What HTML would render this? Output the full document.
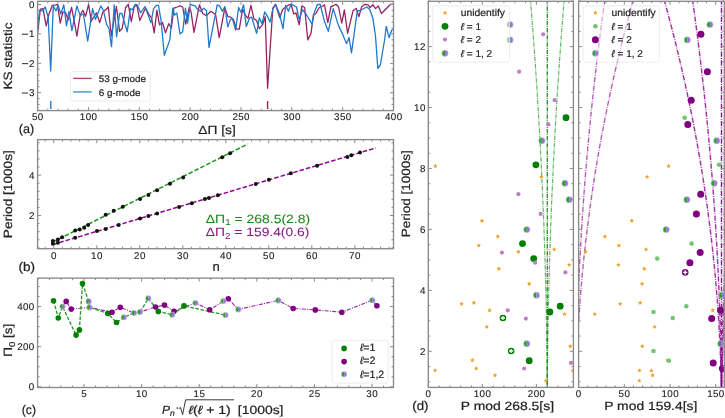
<!DOCTYPE html>
<html><head><meta charset="utf-8"><style>html,body{margin:0;padding:0;background:#fff;}body{width:725px;height:418px;overflow:hidden;font-family:"Liberation Sans", sans-serif;}</style></head><body>
<svg width="725" height="418" viewBox="0 0 725 418" font-family='"Liberation Sans", sans-serif' style="display:block;will-change:transform;text-rendering:geometricPrecision">
<rect width="725" height="418" fill="#fff"/>
<g>
<clipPath id="ca"><rect x="37.6" y="1.3" width="355.9" height="109.3"/></clipPath>
<g clip-path="url(#ca)">
<polyline points="37.6,33.4 40.3,9.2 43,8.6 46.2,25.9 49,14 52.2,5.4 56,4.8 57.5,4.3 60.2,23.2 62.9,11.9 65.5,12.5 68.3,19.9 71.6,7.5 74,20 76.9,36.1 80.2,15.1 82.9,10.2 85.6,16.2 88.6,4.3 91.2,21.2 96.5,12.9 99.7,22.6 102.9,11.9 106.2,9.2 108.3,7 111.3,36 116.4,6.5 119.6,31.3 122.3,28 125.6,7.5 128.3,4.3 131.3,21.6 134.2,6.5 136.9,5.4 139.8,20.5 145.5,8.1 149.3,15.1 151.5,17.8 154.2,32.9 156.9,10.2 159.5,24.8 162.5,22.5 165.5,32.9 168.7,23.7 171.4,28 173.9,8.1 177.3,7 180,5.9 182.7,7 185.7,24.2 189.2,7.5 191,11.5 194,32.3 199.4,4.8 202.7,13.5 206.5,15.6 210.8,11.3 215.6,14.5 219.2,37.7 224.8,8.1 228,16.7 230.7,17.2 233.4,19.4 236.6,29.1 239.3,29.1 242.6,9.2 245.3,15.1 248,18.3 250.9,5.4 253.9,18.9 256.6,20.5 259.3,28.6 262.5,24.8 265.2,16.7 267.6,88.3 272.8,8.1 275.5,4.5 279.8,17.8 282.5,9.7 285.7,7 288.9,4.8 291.1,4.3 293.8,14 296,12.9 299.2,24.8 301.9,5.9 304.6,7.5 307.8,39.9 311,33.4 313.4,14.8 315.9,13.5 319.2,7.5 321.9,6.5 324.5,4.8 327.8,22.6 331,6.5 333,6 335.9,4.3 338.6,7 341.7,23 344.4,10 347.6,33.4 353,10.8 356.2,8.4 358.9,16.7 361.6,6.8 364.9,4.3 368,4.8 370.2,7.5 372.9,4.8 375.6,8.6 378.3,5.9 381.5,13.5 390.6,4.3 392.8,4.1" fill="none" stroke="#982262" stroke-width="1.3" stroke-linejoin="round" />
<polyline points="37.6,24.8 39.8,10.2 42.5,10.8 45.2,7 48.2,17.5 50.7,71 53.3,5.9 56,10.8 58.1,5.2 60.8,14 63.8,4.8 66.5,25.9 68.9,11.3 71.9,30.7 76.9,5.9 80.2,15.6 83.4,14 87.7,41.2 92.6,8.6 95.4,19.4 100.8,5.9 103.5,10.8 106.7,24.8 108.9,28 111.5,46.6 114.2,4.8 116.6,36.6 119.6,13.5 121.8,13.5 127.2,31.8 130.4,8.6 132.3,9.7 135.3,4.3 137.4,4.8 140.6,12.9 145,6.5 150.9,22.6 153.6,8.6 156.3,5.4 158.5,5.4 161.2,21.6 164.3,55.3 169.8,39.9 172.8,8.1 174.6,15.1 176.8,12.9 180,33.9 182.7,31.8 185.4,8.1 187.6,23.2 190.3,4.3 195.1,5.9 197.8,9.7 201,11.3 203.8,8.1 206.5,10.8 209,47.4 217.2,4.8 219.4,5.9 222.6,11.3 224.8,6.5 227.8,26.9 230.2,19.9 232.3,18.3 235.6,30.2 238.6,7.5 241,12.4 243.6,4.8 246.3,26.4 249.6,17.8 251.7,17.2 256.6,33.4 259.3,17.8 262,23.7 264.7,11.9 267.9,17.2 270.1,22.1 272.8,9.2 275.5,4.3 279.5,14 283,28.6 285.7,5.4 288.4,11.3 291.1,4.1 296.5,7 299.2,19.9 302.4,9.7 306,14 312.1,24.2 314.3,12.4 317.5,4.3 320.2,4.5 324.5,21.6 328.3,31.3 333.2,8.6 338.6,25.9 342.3,33.4 346.6,43.7 349,37.4 351.5,52.8 357.3,10.8 360,10.5 366.9,7 369.6,9.2 372.9,18.3 375.5,36 377.8,68.4 380.3,65 384.6,40 386.3,26.4 389,37.7 391.7,30.2 393.5,29" fill="none" stroke="#2079cc" stroke-width="1.3" stroke-linejoin="round" />
<line x1="50.8" y1="101" x2="50.8" y2="109" stroke="#2079cc" stroke-width="1.4" />
<line x1="267.6" y1="101" x2="267.6" y2="109" stroke="#982262" stroke-width="1.4" />
</g>
<rect x="37.6" y="1.3" width="355.9" height="109.3" fill="none" stroke="#8a8a8a" stroke-width="1.35"/>
<line x1="37.6" y1="110.6" x2="37.6" y2="107.1" stroke="#8a8a8a" stroke-width="1.0" />
<line x1="37.6" y1="1.3" x2="37.6" y2="4.8" stroke="#8a8a8a" stroke-width="1.0" />
<line x1="88.44" y1="110.6" x2="88.44" y2="107.1" stroke="#8a8a8a" stroke-width="1.0" />
<line x1="88.44" y1="1.3" x2="88.44" y2="4.8" stroke="#8a8a8a" stroke-width="1.0" />
<line x1="139.29" y1="110.6" x2="139.29" y2="107.1" stroke="#8a8a8a" stroke-width="1.0" />
<line x1="139.29" y1="1.3" x2="139.29" y2="4.8" stroke="#8a8a8a" stroke-width="1.0" />
<line x1="190.13" y1="110.6" x2="190.13" y2="107.1" stroke="#8a8a8a" stroke-width="1.0" />
<line x1="190.13" y1="1.3" x2="190.13" y2="4.8" stroke="#8a8a8a" stroke-width="1.0" />
<line x1="240.97" y1="110.6" x2="240.97" y2="107.1" stroke="#8a8a8a" stroke-width="1.0" />
<line x1="240.97" y1="1.3" x2="240.97" y2="4.8" stroke="#8a8a8a" stroke-width="1.0" />
<line x1="291.81" y1="110.6" x2="291.81" y2="107.1" stroke="#8a8a8a" stroke-width="1.0" />
<line x1="291.81" y1="1.3" x2="291.81" y2="4.8" stroke="#8a8a8a" stroke-width="1.0" />
<line x1="342.66" y1="110.6" x2="342.66" y2="107.1" stroke="#8a8a8a" stroke-width="1.0" />
<line x1="342.66" y1="1.3" x2="342.66" y2="4.8" stroke="#8a8a8a" stroke-width="1.0" />
<line x1="393.5" y1="110.6" x2="393.5" y2="107.1" stroke="#8a8a8a" stroke-width="1.0" />
<line x1="393.5" y1="1.3" x2="393.5" y2="4.8" stroke="#8a8a8a" stroke-width="1.0" />
<line x1="47.77" y1="110.6" x2="47.77" y2="108.6" stroke="#8a8a8a" stroke-width="1.0" />
<line x1="47.77" y1="1.3" x2="47.77" y2="3.3" stroke="#8a8a8a" stroke-width="1.0" />
<line x1="57.94" y1="110.6" x2="57.94" y2="108.6" stroke="#8a8a8a" stroke-width="1.0" />
<line x1="57.94" y1="1.3" x2="57.94" y2="3.3" stroke="#8a8a8a" stroke-width="1.0" />
<line x1="68.11" y1="110.6" x2="68.11" y2="108.6" stroke="#8a8a8a" stroke-width="1.0" />
<line x1="68.11" y1="1.3" x2="68.11" y2="3.3" stroke="#8a8a8a" stroke-width="1.0" />
<line x1="78.27" y1="110.6" x2="78.27" y2="108.6" stroke="#8a8a8a" stroke-width="1.0" />
<line x1="78.27" y1="1.3" x2="78.27" y2="3.3" stroke="#8a8a8a" stroke-width="1.0" />
<line x1="98.61" y1="110.6" x2="98.61" y2="108.6" stroke="#8a8a8a" stroke-width="1.0" />
<line x1="98.61" y1="1.3" x2="98.61" y2="3.3" stroke="#8a8a8a" stroke-width="1.0" />
<line x1="108.78" y1="110.6" x2="108.78" y2="108.6" stroke="#8a8a8a" stroke-width="1.0" />
<line x1="108.78" y1="1.3" x2="108.78" y2="3.3" stroke="#8a8a8a" stroke-width="1.0" />
<line x1="118.95" y1="110.6" x2="118.95" y2="108.6" stroke="#8a8a8a" stroke-width="1.0" />
<line x1="118.95" y1="1.3" x2="118.95" y2="3.3" stroke="#8a8a8a" stroke-width="1.0" />
<line x1="129.12" y1="110.6" x2="129.12" y2="108.6" stroke="#8a8a8a" stroke-width="1.0" />
<line x1="129.12" y1="1.3" x2="129.12" y2="3.3" stroke="#8a8a8a" stroke-width="1.0" />
<line x1="149.45" y1="110.6" x2="149.45" y2="108.6" stroke="#8a8a8a" stroke-width="1.0" />
<line x1="149.45" y1="1.3" x2="149.45" y2="3.3" stroke="#8a8a8a" stroke-width="1.0" />
<line x1="159.62" y1="110.6" x2="159.62" y2="108.6" stroke="#8a8a8a" stroke-width="1.0" />
<line x1="159.62" y1="1.3" x2="159.62" y2="3.3" stroke="#8a8a8a" stroke-width="1.0" />
<line x1="169.79" y1="110.6" x2="169.79" y2="108.6" stroke="#8a8a8a" stroke-width="1.0" />
<line x1="169.79" y1="1.3" x2="169.79" y2="3.3" stroke="#8a8a8a" stroke-width="1.0" />
<line x1="179.96" y1="110.6" x2="179.96" y2="108.6" stroke="#8a8a8a" stroke-width="1.0" />
<line x1="179.96" y1="1.3" x2="179.96" y2="3.3" stroke="#8a8a8a" stroke-width="1.0" />
<line x1="200.3" y1="110.6" x2="200.3" y2="108.6" stroke="#8a8a8a" stroke-width="1.0" />
<line x1="200.3" y1="1.3" x2="200.3" y2="3.3" stroke="#8a8a8a" stroke-width="1.0" />
<line x1="210.47" y1="110.6" x2="210.47" y2="108.6" stroke="#8a8a8a" stroke-width="1.0" />
<line x1="210.47" y1="1.3" x2="210.47" y2="3.3" stroke="#8a8a8a" stroke-width="1.0" />
<line x1="220.63" y1="110.6" x2="220.63" y2="108.6" stroke="#8a8a8a" stroke-width="1.0" />
<line x1="220.63" y1="1.3" x2="220.63" y2="3.3" stroke="#8a8a8a" stroke-width="1.0" />
<line x1="230.8" y1="110.6" x2="230.8" y2="108.6" stroke="#8a8a8a" stroke-width="1.0" />
<line x1="230.8" y1="1.3" x2="230.8" y2="3.3" stroke="#8a8a8a" stroke-width="1.0" />
<line x1="251.14" y1="110.6" x2="251.14" y2="108.6" stroke="#8a8a8a" stroke-width="1.0" />
<line x1="251.14" y1="1.3" x2="251.14" y2="3.3" stroke="#8a8a8a" stroke-width="1.0" />
<line x1="261.31" y1="110.6" x2="261.31" y2="108.6" stroke="#8a8a8a" stroke-width="1.0" />
<line x1="261.31" y1="1.3" x2="261.31" y2="3.3" stroke="#8a8a8a" stroke-width="1.0" />
<line x1="271.48" y1="110.6" x2="271.48" y2="108.6" stroke="#8a8a8a" stroke-width="1.0" />
<line x1="271.48" y1="1.3" x2="271.48" y2="3.3" stroke="#8a8a8a" stroke-width="1.0" />
<line x1="281.65" y1="110.6" x2="281.65" y2="108.6" stroke="#8a8a8a" stroke-width="1.0" />
<line x1="281.65" y1="1.3" x2="281.65" y2="3.3" stroke="#8a8a8a" stroke-width="1.0" />
<line x1="301.98" y1="110.6" x2="301.98" y2="108.6" stroke="#8a8a8a" stroke-width="1.0" />
<line x1="301.98" y1="1.3" x2="301.98" y2="3.3" stroke="#8a8a8a" stroke-width="1.0" />
<line x1="312.15" y1="110.6" x2="312.15" y2="108.6" stroke="#8a8a8a" stroke-width="1.0" />
<line x1="312.15" y1="1.3" x2="312.15" y2="3.3" stroke="#8a8a8a" stroke-width="1.0" />
<line x1="322.32" y1="110.6" x2="322.32" y2="108.6" stroke="#8a8a8a" stroke-width="1.0" />
<line x1="322.32" y1="1.3" x2="322.32" y2="3.3" stroke="#8a8a8a" stroke-width="1.0" />
<line x1="332.49" y1="110.6" x2="332.49" y2="108.6" stroke="#8a8a8a" stroke-width="1.0" />
<line x1="332.49" y1="1.3" x2="332.49" y2="3.3" stroke="#8a8a8a" stroke-width="1.0" />
<line x1="352.83" y1="110.6" x2="352.83" y2="108.6" stroke="#8a8a8a" stroke-width="1.0" />
<line x1="352.83" y1="1.3" x2="352.83" y2="3.3" stroke="#8a8a8a" stroke-width="1.0" />
<line x1="362.99" y1="110.6" x2="362.99" y2="108.6" stroke="#8a8a8a" stroke-width="1.0" />
<line x1="362.99" y1="1.3" x2="362.99" y2="3.3" stroke="#8a8a8a" stroke-width="1.0" />
<line x1="373.16" y1="110.6" x2="373.16" y2="108.6" stroke="#8a8a8a" stroke-width="1.0" />
<line x1="373.16" y1="1.3" x2="373.16" y2="3.3" stroke="#8a8a8a" stroke-width="1.0" />
<line x1="383.33" y1="110.6" x2="383.33" y2="108.6" stroke="#8a8a8a" stroke-width="1.0" />
<line x1="383.33" y1="1.3" x2="383.33" y2="3.3" stroke="#8a8a8a" stroke-width="1.0" />
<line x1="37.6" y1="4.5" x2="41.1" y2="4.5" stroke="#8a8a8a" stroke-width="1.0" />
<line x1="393.5" y1="4.5" x2="390" y2="4.5" stroke="#8a8a8a" stroke-width="1.0" />
<line x1="37.6" y1="33.9" x2="41.1" y2="33.9" stroke="#8a8a8a" stroke-width="1.0" />
<line x1="393.5" y1="33.9" x2="390" y2="33.9" stroke="#8a8a8a" stroke-width="1.0" />
<line x1="37.6" y1="63.3" x2="41.1" y2="63.3" stroke="#8a8a8a" stroke-width="1.0" />
<line x1="393.5" y1="63.3" x2="390" y2="63.3" stroke="#8a8a8a" stroke-width="1.0" />
<line x1="37.6" y1="92.7" x2="41.1" y2="92.7" stroke="#8a8a8a" stroke-width="1.0" />
<line x1="393.5" y1="92.7" x2="390" y2="92.7" stroke="#8a8a8a" stroke-width="1.0" />
<line x1="37.6" y1="10.38" x2="39.6" y2="10.38" stroke="#8a8a8a" stroke-width="1.0" />
<line x1="393.5" y1="10.38" x2="391.5" y2="10.38" stroke="#8a8a8a" stroke-width="1.0" />
<line x1="37.6" y1="16.26" x2="39.6" y2="16.26" stroke="#8a8a8a" stroke-width="1.0" />
<line x1="393.5" y1="16.26" x2="391.5" y2="16.26" stroke="#8a8a8a" stroke-width="1.0" />
<line x1="37.6" y1="22.14" x2="39.6" y2="22.14" stroke="#8a8a8a" stroke-width="1.0" />
<line x1="393.5" y1="22.14" x2="391.5" y2="22.14" stroke="#8a8a8a" stroke-width="1.0" />
<line x1="37.6" y1="28.02" x2="39.6" y2="28.02" stroke="#8a8a8a" stroke-width="1.0" />
<line x1="393.5" y1="28.02" x2="391.5" y2="28.02" stroke="#8a8a8a" stroke-width="1.0" />
<line x1="37.6" y1="39.78" x2="39.6" y2="39.78" stroke="#8a8a8a" stroke-width="1.0" />
<line x1="393.5" y1="39.78" x2="391.5" y2="39.78" stroke="#8a8a8a" stroke-width="1.0" />
<line x1="37.6" y1="45.66" x2="39.6" y2="45.66" stroke="#8a8a8a" stroke-width="1.0" />
<line x1="393.5" y1="45.66" x2="391.5" y2="45.66" stroke="#8a8a8a" stroke-width="1.0" />
<line x1="37.6" y1="51.54" x2="39.6" y2="51.54" stroke="#8a8a8a" stroke-width="1.0" />
<line x1="393.5" y1="51.54" x2="391.5" y2="51.54" stroke="#8a8a8a" stroke-width="1.0" />
<line x1="37.6" y1="57.42" x2="39.6" y2="57.42" stroke="#8a8a8a" stroke-width="1.0" />
<line x1="393.5" y1="57.42" x2="391.5" y2="57.42" stroke="#8a8a8a" stroke-width="1.0" />
<line x1="37.6" y1="69.18" x2="39.6" y2="69.18" stroke="#8a8a8a" stroke-width="1.0" />
<line x1="393.5" y1="69.18" x2="391.5" y2="69.18" stroke="#8a8a8a" stroke-width="1.0" />
<line x1="37.6" y1="75.06" x2="39.6" y2="75.06" stroke="#8a8a8a" stroke-width="1.0" />
<line x1="393.5" y1="75.06" x2="391.5" y2="75.06" stroke="#8a8a8a" stroke-width="1.0" />
<line x1="37.6" y1="80.94" x2="39.6" y2="80.94" stroke="#8a8a8a" stroke-width="1.0" />
<line x1="393.5" y1="80.94" x2="391.5" y2="80.94" stroke="#8a8a8a" stroke-width="1.0" />
<line x1="37.6" y1="86.82" x2="39.6" y2="86.82" stroke="#8a8a8a" stroke-width="1.0" />
<line x1="393.5" y1="86.82" x2="391.5" y2="86.82" stroke="#8a8a8a" stroke-width="1.0" />
<line x1="37.6" y1="98.58" x2="39.6" y2="98.58" stroke="#8a8a8a" stroke-width="1.0" />
<line x1="393.5" y1="98.58" x2="391.5" y2="98.58" stroke="#8a8a8a" stroke-width="1.0" />
<line x1="37.6" y1="104.46" x2="39.6" y2="104.46" stroke="#8a8a8a" stroke-width="1.0" />
<line x1="393.5" y1="104.46" x2="391.5" y2="104.46" stroke="#8a8a8a" stroke-width="1.0" />
<line x1="37.6" y1="110.34" x2="39.6" y2="110.34" stroke="#8a8a8a" stroke-width="1.0" />
<line x1="393.5" y1="110.34" x2="391.5" y2="110.34" stroke="#8a8a8a" stroke-width="1.0" />
<text x="37.6" y="120.2" font-size="9.8" text-anchor="middle" fill="#222" stroke="#222" stroke-width="0.12" textLength="11.45" lengthAdjust="spacing">50</text>
<text x="88.44" y="120.2" font-size="9.8" text-anchor="middle" fill="#222" stroke="#222" stroke-width="0.12" textLength="17.17" lengthAdjust="spacing">100</text>
<text x="139.29" y="120.2" font-size="9.8" text-anchor="middle" fill="#222" stroke="#222" stroke-width="0.12" textLength="17.17" lengthAdjust="spacing">150</text>
<text x="190.13" y="120.2" font-size="9.8" text-anchor="middle" fill="#222" stroke="#222" stroke-width="0.12" textLength="17.17" lengthAdjust="spacing">200</text>
<text x="240.97" y="120.2" font-size="9.8" text-anchor="middle" fill="#222" stroke="#222" stroke-width="0.12" textLength="17.17" lengthAdjust="spacing">250</text>
<text x="291.81" y="120.2" font-size="9.8" text-anchor="middle" fill="#222" stroke="#222" stroke-width="0.12" textLength="17.17" lengthAdjust="spacing">300</text>
<text x="342.66" y="120.2" font-size="9.8" text-anchor="middle" fill="#222" stroke="#222" stroke-width="0.12" textLength="17.17" lengthAdjust="spacing">350</text>
<text x="393.5" y="120.2" font-size="9.8" text-anchor="middle" fill="#222" stroke="#222" stroke-width="0.12" textLength="17.17" lengthAdjust="spacing">400</text>
<text x="34.5" y="7.9" font-size="9.8" text-anchor="end" fill="#222" stroke="#222" stroke-width="0.12" textLength="5.72" lengthAdjust="spacing">0</text>
<rect x="22" y="33.7" width="6.1" height="1.05" fill="#333"/>
<text x="34.5" y="37.3" font-size="9.8" text-anchor="end" fill="#222" stroke="#222" stroke-width="0.12" textLength="5.72" lengthAdjust="spacing">1</text>
<rect x="22" y="63.1" width="6.1" height="1.05" fill="#333"/>
<text x="34.5" y="66.7" font-size="9.8" text-anchor="end" fill="#222" stroke="#222" stroke-width="0.12" textLength="5.72" lengthAdjust="spacing">2</text>
<rect x="22" y="92.5" width="6.1" height="1.05" fill="#333"/>
<text x="34.5" y="96.1" font-size="9.8" text-anchor="end" fill="#222" stroke="#222" stroke-width="0.12" textLength="5.72" lengthAdjust="spacing">3</text>
<text x="12.4" y="56" font-size="12" text-anchor="middle" fill="#222" stroke="#222" stroke-width="0.2" textLength="67" lengthAdjust="spacingAndGlyphs" transform="rotate(-90 12.4 56)" >KS statistic</text>
<text x="18.7" y="133.3" font-size="12.5" text-anchor="start" fill="#222" stroke="#222" stroke-width="0.2" textLength="15.4" lengthAdjust="spacingAndGlyphs" >(a)</text>
<text x="198.3" y="133.6" font-size="12" text-anchor="start" fill="#222" stroke="#222" stroke-width="0.2" textLength="37.4" lengthAdjust="spacingAndGlyphs" >ΔΠ [s]</text>
<rect x="70.6" y="71.4" width="79.8" height="29.6" rx="2" fill="#fff" fill-opacity="0.5" stroke="#e8e8e8" stroke-width="0.8"/>
<line x1="73.2" y1="78.4" x2="91.6" y2="78.4" stroke="#a8497a" stroke-width="1.4" />
<line x1="73.2" y1="91.9" x2="91.6" y2="91.9" stroke="#5a9ee0" stroke-width="1.6" />
<text x="98.8" y="82.2" font-size="9.5" text-anchor="start" fill="#222" stroke="#222" stroke-width="0.2" textLength="47.2" lengthAdjust="spacingAndGlyphs" >53 g-mode</text>
<text x="98.8" y="95.6" font-size="9.5" text-anchor="start" fill="#222" stroke="#222" stroke-width="0.2" textLength="41.6" lengthAdjust="spacingAndGlyphs" >6 g-mode</text>
</g>
<g>
<clipPath id="cb"><rect x="37.6" y="139.6" width="355.9" height="109.1"/></clipPath>
<g clip-path="url(#cb)">
<line x1="52.9" y1="242" x2="247.8" y2="144" stroke="#1a961a" stroke-width="1.5" stroke-dasharray="4.6 2"/>
<line x1="52.9" y1="244.5" x2="375.8" y2="147.9" stroke="#8e0a8e" stroke-width="1.5" stroke-dasharray="4.6 2"/>
<circle cx="52.9" cy="241.1" r="2" fill="#111"/>
<circle cx="52.9" cy="243.7" r="2" fill="#111"/>
<circle cx="57.9" cy="239.5" r="2" fill="#111"/>
<circle cx="57.9" cy="242.8" r="2" fill="#111"/>
<circle cx="62.1" cy="237.3" r="2" fill="#111"/>
<circle cx="75.2" cy="230.6" r="2" fill="#111"/>
<circle cx="79.7" cy="229.4" r="2" fill="#111"/>
<circle cx="84.2" cy="227.7" r="2" fill="#111"/>
<circle cx="88.1" cy="224.9" r="2" fill="#111"/>
<circle cx="105.7" cy="214.8" r="2" fill="#111"/>
<circle cx="113.7" cy="210.7" r="2" fill="#111"/>
<circle cx="122.8" cy="206.8" r="2" fill="#111"/>
<circle cx="140.1" cy="199.1" r="2" fill="#111"/>
<circle cx="148.4" cy="195.1" r="2" fill="#111"/>
<circle cx="157.1" cy="190.3" r="2" fill="#111"/>
<circle cx="170" cy="183.8" r="2" fill="#111"/>
<circle cx="183.1" cy="177.6" r="2" fill="#111"/>
<circle cx="222.2" cy="157.2" r="2" fill="#111"/>
<circle cx="230.1" cy="153.2" r="2" fill="#111"/>
<circle cx="75.2" cy="237.8" r="2" fill="#111"/>
<circle cx="97" cy="231.1" r="2" fill="#111"/>
<circle cx="105.7" cy="228.9" r="2" fill="#111"/>
<circle cx="118.6" cy="224.9" r="2" fill="#111"/>
<circle cx="140.1" cy="218.5" r="2" fill="#111"/>
<circle cx="148.4" cy="216.1" r="2" fill="#111"/>
<circle cx="157.1" cy="213.5" r="2" fill="#111"/>
<circle cx="179.1" cy="207" r="2" fill="#111"/>
<circle cx="191.8" cy="203.2" r="2" fill="#111"/>
<circle cx="204.9" cy="199.1" r="2" fill="#111"/>
<circle cx="209" cy="197.9" r="2" fill="#111"/>
<circle cx="217.9" cy="195.3" r="2" fill="#111"/>
<circle cx="255.8" cy="184" r="2" fill="#111"/>
<circle cx="268.9" cy="179.7" r="2" fill="#111"/>
<circle cx="290.8" cy="173.2" r="2" fill="#111"/>
<circle cx="317.1" cy="165.8" r="2" fill="#111"/>
<circle cx="347.4" cy="157.1" r="2" fill="#111"/>
<circle cx="351.3" cy="155.3" r="2" fill="#111"/>
<circle cx="360" cy="152.6" r="2" fill="#111"/>
</g>
<rect x="37.6" y="139.6" width="355.9" height="109.1" fill="none" stroke="#8a8a8a" stroke-width="1.35"/>
<line x1="53.8" y1="248.7" x2="53.8" y2="245.2" stroke="#8a8a8a" stroke-width="1.0" />
<line x1="53.8" y1="139.6" x2="53.8" y2="143.1" stroke="#8a8a8a" stroke-width="1.0" />
<line x1="96.8" y1="248.7" x2="96.8" y2="245.2" stroke="#8a8a8a" stroke-width="1.0" />
<line x1="96.8" y1="139.6" x2="96.8" y2="143.1" stroke="#8a8a8a" stroke-width="1.0" />
<line x1="139.8" y1="248.7" x2="139.8" y2="245.2" stroke="#8a8a8a" stroke-width="1.0" />
<line x1="139.8" y1="139.6" x2="139.8" y2="143.1" stroke="#8a8a8a" stroke-width="1.0" />
<line x1="182.8" y1="248.7" x2="182.8" y2="245.2" stroke="#8a8a8a" stroke-width="1.0" />
<line x1="182.8" y1="139.6" x2="182.8" y2="143.1" stroke="#8a8a8a" stroke-width="1.0" />
<line x1="225.8" y1="248.7" x2="225.8" y2="245.2" stroke="#8a8a8a" stroke-width="1.0" />
<line x1="225.8" y1="139.6" x2="225.8" y2="143.1" stroke="#8a8a8a" stroke-width="1.0" />
<line x1="268.8" y1="248.7" x2="268.8" y2="245.2" stroke="#8a8a8a" stroke-width="1.0" />
<line x1="268.8" y1="139.6" x2="268.8" y2="143.1" stroke="#8a8a8a" stroke-width="1.0" />
<line x1="311.8" y1="248.7" x2="311.8" y2="245.2" stroke="#8a8a8a" stroke-width="1.0" />
<line x1="311.8" y1="139.6" x2="311.8" y2="143.1" stroke="#8a8a8a" stroke-width="1.0" />
<line x1="354.8" y1="248.7" x2="354.8" y2="245.2" stroke="#8a8a8a" stroke-width="1.0" />
<line x1="354.8" y1="139.6" x2="354.8" y2="143.1" stroke="#8a8a8a" stroke-width="1.0" />
<line x1="45.2" y1="248.7" x2="45.2" y2="246.7" stroke="#8a8a8a" stroke-width="1.0" />
<line x1="45.2" y1="139.6" x2="45.2" y2="141.6" stroke="#8a8a8a" stroke-width="1.0" />
<line x1="62.4" y1="248.7" x2="62.4" y2="246.7" stroke="#8a8a8a" stroke-width="1.0" />
<line x1="62.4" y1="139.6" x2="62.4" y2="141.6" stroke="#8a8a8a" stroke-width="1.0" />
<line x1="71" y1="248.7" x2="71" y2="246.7" stroke="#8a8a8a" stroke-width="1.0" />
<line x1="71" y1="139.6" x2="71" y2="141.6" stroke="#8a8a8a" stroke-width="1.0" />
<line x1="79.6" y1="248.7" x2="79.6" y2="246.7" stroke="#8a8a8a" stroke-width="1.0" />
<line x1="79.6" y1="139.6" x2="79.6" y2="141.6" stroke="#8a8a8a" stroke-width="1.0" />
<line x1="88.2" y1="248.7" x2="88.2" y2="246.7" stroke="#8a8a8a" stroke-width="1.0" />
<line x1="88.2" y1="139.6" x2="88.2" y2="141.6" stroke="#8a8a8a" stroke-width="1.0" />
<line x1="105.4" y1="248.7" x2="105.4" y2="246.7" stroke="#8a8a8a" stroke-width="1.0" />
<line x1="105.4" y1="139.6" x2="105.4" y2="141.6" stroke="#8a8a8a" stroke-width="1.0" />
<line x1="114" y1="248.7" x2="114" y2="246.7" stroke="#8a8a8a" stroke-width="1.0" />
<line x1="114" y1="139.6" x2="114" y2="141.6" stroke="#8a8a8a" stroke-width="1.0" />
<line x1="122.6" y1="248.7" x2="122.6" y2="246.7" stroke="#8a8a8a" stroke-width="1.0" />
<line x1="122.6" y1="139.6" x2="122.6" y2="141.6" stroke="#8a8a8a" stroke-width="1.0" />
<line x1="131.2" y1="248.7" x2="131.2" y2="246.7" stroke="#8a8a8a" stroke-width="1.0" />
<line x1="131.2" y1="139.6" x2="131.2" y2="141.6" stroke="#8a8a8a" stroke-width="1.0" />
<line x1="148.4" y1="248.7" x2="148.4" y2="246.7" stroke="#8a8a8a" stroke-width="1.0" />
<line x1="148.4" y1="139.6" x2="148.4" y2="141.6" stroke="#8a8a8a" stroke-width="1.0" />
<line x1="157" y1="248.7" x2="157" y2="246.7" stroke="#8a8a8a" stroke-width="1.0" />
<line x1="157" y1="139.6" x2="157" y2="141.6" stroke="#8a8a8a" stroke-width="1.0" />
<line x1="165.6" y1="248.7" x2="165.6" y2="246.7" stroke="#8a8a8a" stroke-width="1.0" />
<line x1="165.6" y1="139.6" x2="165.6" y2="141.6" stroke="#8a8a8a" stroke-width="1.0" />
<line x1="174.2" y1="248.7" x2="174.2" y2="246.7" stroke="#8a8a8a" stroke-width="1.0" />
<line x1="174.2" y1="139.6" x2="174.2" y2="141.6" stroke="#8a8a8a" stroke-width="1.0" />
<line x1="191.4" y1="248.7" x2="191.4" y2="246.7" stroke="#8a8a8a" stroke-width="1.0" />
<line x1="191.4" y1="139.6" x2="191.4" y2="141.6" stroke="#8a8a8a" stroke-width="1.0" />
<line x1="200" y1="248.7" x2="200" y2="246.7" stroke="#8a8a8a" stroke-width="1.0" />
<line x1="200" y1="139.6" x2="200" y2="141.6" stroke="#8a8a8a" stroke-width="1.0" />
<line x1="208.6" y1="248.7" x2="208.6" y2="246.7" stroke="#8a8a8a" stroke-width="1.0" />
<line x1="208.6" y1="139.6" x2="208.6" y2="141.6" stroke="#8a8a8a" stroke-width="1.0" />
<line x1="217.2" y1="248.7" x2="217.2" y2="246.7" stroke="#8a8a8a" stroke-width="1.0" />
<line x1="217.2" y1="139.6" x2="217.2" y2="141.6" stroke="#8a8a8a" stroke-width="1.0" />
<line x1="234.4" y1="248.7" x2="234.4" y2="246.7" stroke="#8a8a8a" stroke-width="1.0" />
<line x1="234.4" y1="139.6" x2="234.4" y2="141.6" stroke="#8a8a8a" stroke-width="1.0" />
<line x1="243" y1="248.7" x2="243" y2="246.7" stroke="#8a8a8a" stroke-width="1.0" />
<line x1="243" y1="139.6" x2="243" y2="141.6" stroke="#8a8a8a" stroke-width="1.0" />
<line x1="251.6" y1="248.7" x2="251.6" y2="246.7" stroke="#8a8a8a" stroke-width="1.0" />
<line x1="251.6" y1="139.6" x2="251.6" y2="141.6" stroke="#8a8a8a" stroke-width="1.0" />
<line x1="260.2" y1="248.7" x2="260.2" y2="246.7" stroke="#8a8a8a" stroke-width="1.0" />
<line x1="260.2" y1="139.6" x2="260.2" y2="141.6" stroke="#8a8a8a" stroke-width="1.0" />
<line x1="277.4" y1="248.7" x2="277.4" y2="246.7" stroke="#8a8a8a" stroke-width="1.0" />
<line x1="277.4" y1="139.6" x2="277.4" y2="141.6" stroke="#8a8a8a" stroke-width="1.0" />
<line x1="286" y1="248.7" x2="286" y2="246.7" stroke="#8a8a8a" stroke-width="1.0" />
<line x1="286" y1="139.6" x2="286" y2="141.6" stroke="#8a8a8a" stroke-width="1.0" />
<line x1="294.6" y1="248.7" x2="294.6" y2="246.7" stroke="#8a8a8a" stroke-width="1.0" />
<line x1="294.6" y1="139.6" x2="294.6" y2="141.6" stroke="#8a8a8a" stroke-width="1.0" />
<line x1="303.2" y1="248.7" x2="303.2" y2="246.7" stroke="#8a8a8a" stroke-width="1.0" />
<line x1="303.2" y1="139.6" x2="303.2" y2="141.6" stroke="#8a8a8a" stroke-width="1.0" />
<line x1="320.4" y1="248.7" x2="320.4" y2="246.7" stroke="#8a8a8a" stroke-width="1.0" />
<line x1="320.4" y1="139.6" x2="320.4" y2="141.6" stroke="#8a8a8a" stroke-width="1.0" />
<line x1="329" y1="248.7" x2="329" y2="246.7" stroke="#8a8a8a" stroke-width="1.0" />
<line x1="329" y1="139.6" x2="329" y2="141.6" stroke="#8a8a8a" stroke-width="1.0" />
<line x1="337.6" y1="248.7" x2="337.6" y2="246.7" stroke="#8a8a8a" stroke-width="1.0" />
<line x1="337.6" y1="139.6" x2="337.6" y2="141.6" stroke="#8a8a8a" stroke-width="1.0" />
<line x1="346.2" y1="248.7" x2="346.2" y2="246.7" stroke="#8a8a8a" stroke-width="1.0" />
<line x1="346.2" y1="139.6" x2="346.2" y2="141.6" stroke="#8a8a8a" stroke-width="1.0" />
<line x1="363.4" y1="248.7" x2="363.4" y2="246.7" stroke="#8a8a8a" stroke-width="1.0" />
<line x1="363.4" y1="139.6" x2="363.4" y2="141.6" stroke="#8a8a8a" stroke-width="1.0" />
<line x1="372" y1="248.7" x2="372" y2="246.7" stroke="#8a8a8a" stroke-width="1.0" />
<line x1="372" y1="139.6" x2="372" y2="141.6" stroke="#8a8a8a" stroke-width="1.0" />
<line x1="380.6" y1="248.7" x2="380.6" y2="246.7" stroke="#8a8a8a" stroke-width="1.0" />
<line x1="380.6" y1="139.6" x2="380.6" y2="141.6" stroke="#8a8a8a" stroke-width="1.0" />
<line x1="389.2" y1="248.7" x2="389.2" y2="246.7" stroke="#8a8a8a" stroke-width="1.0" />
<line x1="389.2" y1="139.6" x2="389.2" y2="141.6" stroke="#8a8a8a" stroke-width="1.0" />
<line x1="37.6" y1="215.5" x2="41.1" y2="215.5" stroke="#8a8a8a" stroke-width="1.0" />
<line x1="393.5" y1="215.5" x2="390" y2="215.5" stroke="#8a8a8a" stroke-width="1.0" />
<line x1="37.6" y1="175.1" x2="41.1" y2="175.1" stroke="#8a8a8a" stroke-width="1.0" />
<line x1="393.5" y1="175.1" x2="390" y2="175.1" stroke="#8a8a8a" stroke-width="1.0" />
<line x1="37.6" y1="247.82" x2="39.6" y2="247.82" stroke="#8a8a8a" stroke-width="1.0" />
<line x1="393.5" y1="247.82" x2="391.5" y2="247.82" stroke="#8a8a8a" stroke-width="1.0" />
<line x1="37.6" y1="239.74" x2="39.6" y2="239.74" stroke="#8a8a8a" stroke-width="1.0" />
<line x1="393.5" y1="239.74" x2="391.5" y2="239.74" stroke="#8a8a8a" stroke-width="1.0" />
<line x1="37.6" y1="231.66" x2="39.6" y2="231.66" stroke="#8a8a8a" stroke-width="1.0" />
<line x1="393.5" y1="231.66" x2="391.5" y2="231.66" stroke="#8a8a8a" stroke-width="1.0" />
<line x1="37.6" y1="223.58" x2="39.6" y2="223.58" stroke="#8a8a8a" stroke-width="1.0" />
<line x1="393.5" y1="223.58" x2="391.5" y2="223.58" stroke="#8a8a8a" stroke-width="1.0" />
<line x1="37.6" y1="207.42" x2="39.6" y2="207.42" stroke="#8a8a8a" stroke-width="1.0" />
<line x1="393.5" y1="207.42" x2="391.5" y2="207.42" stroke="#8a8a8a" stroke-width="1.0" />
<line x1="37.6" y1="199.34" x2="39.6" y2="199.34" stroke="#8a8a8a" stroke-width="1.0" />
<line x1="393.5" y1="199.34" x2="391.5" y2="199.34" stroke="#8a8a8a" stroke-width="1.0" />
<line x1="37.6" y1="191.26" x2="39.6" y2="191.26" stroke="#8a8a8a" stroke-width="1.0" />
<line x1="393.5" y1="191.26" x2="391.5" y2="191.26" stroke="#8a8a8a" stroke-width="1.0" />
<line x1="37.6" y1="183.18" x2="39.6" y2="183.18" stroke="#8a8a8a" stroke-width="1.0" />
<line x1="393.5" y1="183.18" x2="391.5" y2="183.18" stroke="#8a8a8a" stroke-width="1.0" />
<line x1="37.6" y1="167.02" x2="39.6" y2="167.02" stroke="#8a8a8a" stroke-width="1.0" />
<line x1="393.5" y1="167.02" x2="391.5" y2="167.02" stroke="#8a8a8a" stroke-width="1.0" />
<line x1="37.6" y1="158.94" x2="39.6" y2="158.94" stroke="#8a8a8a" stroke-width="1.0" />
<line x1="393.5" y1="158.94" x2="391.5" y2="158.94" stroke="#8a8a8a" stroke-width="1.0" />
<line x1="37.6" y1="150.86" x2="39.6" y2="150.86" stroke="#8a8a8a" stroke-width="1.0" />
<line x1="393.5" y1="150.86" x2="391.5" y2="150.86" stroke="#8a8a8a" stroke-width="1.0" />
<line x1="37.6" y1="142.78" x2="39.6" y2="142.78" stroke="#8a8a8a" stroke-width="1.0" />
<line x1="393.5" y1="142.78" x2="391.5" y2="142.78" stroke="#8a8a8a" stroke-width="1.0" />
<text x="53.8" y="258.6" font-size="9.8" text-anchor="middle" fill="#222" stroke="#222" stroke-width="0.12" textLength="5.72" lengthAdjust="spacing">0</text>
<text x="96.8" y="258.6" font-size="9.8" text-anchor="middle" fill="#222" stroke="#222" stroke-width="0.12" textLength="11.45" lengthAdjust="spacing">10</text>
<text x="139.8" y="258.6" font-size="9.8" text-anchor="middle" fill="#222" stroke="#222" stroke-width="0.12" textLength="11.45" lengthAdjust="spacing">20</text>
<text x="182.8" y="258.6" font-size="9.8" text-anchor="middle" fill="#222" stroke="#222" stroke-width="0.12" textLength="11.45" lengthAdjust="spacing">30</text>
<text x="225.8" y="258.6" font-size="9.8" text-anchor="middle" fill="#222" stroke="#222" stroke-width="0.12" textLength="11.45" lengthAdjust="spacing">40</text>
<text x="268.8" y="258.6" font-size="9.8" text-anchor="middle" fill="#222" stroke="#222" stroke-width="0.12" textLength="11.45" lengthAdjust="spacing">50</text>
<text x="311.8" y="258.6" font-size="9.8" text-anchor="middle" fill="#222" stroke="#222" stroke-width="0.12" textLength="11.45" lengthAdjust="spacing">60</text>
<text x="354.8" y="258.6" font-size="9.8" text-anchor="middle" fill="#222" stroke="#222" stroke-width="0.12" textLength="11.45" lengthAdjust="spacing">70</text>
<text x="34.5" y="178.5" font-size="9.8" text-anchor="end" fill="#222" stroke="#222" stroke-width="0.12" textLength="5.72" lengthAdjust="spacing">4</text>
<text x="34.5" y="218.9" font-size="9.8" text-anchor="end" fill="#222" stroke="#222" stroke-width="0.12" textLength="5.72" lengthAdjust="spacing">2</text>
<text x="12.4" y="194.2" font-size="12" text-anchor="middle" fill="#222" stroke="#222" stroke-width="0.2" textLength="88" lengthAdjust="spacingAndGlyphs" transform="rotate(-90 12.4 194.2)" >Period [1000s]</text>
<text x="18.5" y="271.4" font-size="12.5" text-anchor="start" fill="#222" stroke="#222" stroke-width="0.2" textLength="16.6" lengthAdjust="spacingAndGlyphs" >(b)</text>
<text x="216.2" y="271.3" font-size="13" text-anchor="middle" fill="#222" stroke="#222" stroke-width="0.2" >n</text>
<text x="205.8" y="222.9" font-size="12" text-anchor="start" fill="#1a8a1a" stroke="#1a8a1a" stroke-width="0.05" textLength="104.3" lengthAdjust="spacingAndGlyphs" >ΔΠ<tspan font-size="8.5" dy="2.2">1</tspan><tspan dy="-2.2"> = 268.5(2.8)</tspan></text>
<text x="205.8" y="236.4" font-size="12" text-anchor="start" fill="#8a1a8a" stroke="#8a1a8a" stroke-width="0.05" textLength="103.5" lengthAdjust="spacingAndGlyphs" >ΔΠ<tspan font-size="8.5" dy="2.2">2</tspan><tspan dy="-2.2"> = 159.4(0.6)</tspan></text>
</g>
<g>
<clipPath id="cc"><rect x="37.6" y="278.1" width="355.9" height="109.39999999999998"/></clipPath>
<g clip-path="url(#cc)">
<polyline points="62.5,306.5 66.2,301.4 71.2,309.1 89.5,307.4 112,312.2 120.3,307.2 134,313 140,312 155.5,307 164.5,305.1 174,311.3 195.5,303 209.7,309.8 223.4,301.1 228.3,298.8 238.3,309.4 278.3,300.4 293.2,308.5 315.3,309.9 341.8,312.2 372.3,300.2 376.9,305.7" fill="none" stroke="#a020a8" stroke-width="1.1" stroke-linejoin="round" stroke-dasharray="4 1.3 1 1.3"/>
<polyline points="53.5,300.7 58.3,318 62.5,306.5 76.1,335.1 79.4,329.9 82.5,283.6 88.7,301.4 89.5,307.4 107.8,313.4 116.5,322.5 123.9,317.3 134,313 140,312 148.3,298.4 158.3,311.4 172.2,314.8 184,305.9 225.5,315.1" fill="none" stroke="#1f9a1f" stroke-width="1.3" stroke-linejoin="round" stroke-dasharray="3.6 1.6"/>
<circle cx="53.5" cy="300.7" r="2.8" fill="#008000"/>
<circle cx="58.3" cy="318" r="2.8" fill="#008000"/>
<circle cx="76.1" cy="335.1" r="2.8" fill="#008000"/>
<circle cx="79.4" cy="329.9" r="2.8" fill="#008000"/>
<circle cx="82.5" cy="283.6" r="2.8" fill="#008000"/>
<circle cx="107.8" cy="313.4" r="2.8" fill="#008000"/>
<circle cx="116.5" cy="322.5" r="2.8" fill="#008000"/>
<circle cx="158.3" cy="311.4" r="2.8" fill="#008000"/>
<circle cx="184" cy="305.9" r="2.8" fill="#008000"/>
<circle cx="66.2" cy="301.4" r="2.8" fill="#800080"/>
<circle cx="71.2" cy="309.1" r="2.8" fill="#800080"/>
<circle cx="112" cy="312.2" r="2.8" fill="#800080"/>
<circle cx="120.3" cy="307.2" r="2.8" fill="#800080"/>
<circle cx="155.5" cy="307" r="2.8" fill="#800080"/>
<circle cx="164.5" cy="305.1" r="2.8" fill="#800080"/>
<circle cx="174" cy="311.3" r="2.8" fill="#800080"/>
<circle cx="209.7" cy="309.8" r="2.8" fill="#800080"/>
<circle cx="228.3" cy="298.8" r="2.8" fill="#800080"/>
<circle cx="293.2" cy="308.5" r="2.8" fill="#800080"/>
<circle cx="315.3" cy="309.9" r="2.8" fill="#800080"/>
<circle cx="341.8" cy="312.2" r="2.8" fill="#800080"/>
<circle cx="376.9" cy="305.7" r="2.8" fill="#800080"/>
<g><path d="M62.5,303.7 A2.8,2.8 0 0 0 62.5,309.3 Z" fill="#2ca02c"/><path d="M62.5,303.7 A2.8,2.8 0 0 1 62.5,309.3 Z" fill="#a070d8"/><circle cx="62.5" cy="306.5" r="2.8" fill="none" stroke="#c8d0f0" stroke-width="0.6"/></g>
<g><path d="M88.7,298.6 A2.8,2.8 0 0 0 88.7,304.2 Z" fill="#2ca02c"/><path d="M88.7,298.6 A2.8,2.8 0 0 1 88.7,304.2 Z" fill="#a070d8"/><circle cx="88.7" cy="301.4" r="2.8" fill="none" stroke="#c8d0f0" stroke-width="0.6"/></g>
<g><path d="M89.5,304.6 A2.8,2.8 0 0 0 89.5,310.2 Z" fill="#2ca02c"/><path d="M89.5,304.6 A2.8,2.8 0 0 1 89.5,310.2 Z" fill="#a070d8"/><circle cx="89.5" cy="307.4" r="2.8" fill="none" stroke="#c8d0f0" stroke-width="0.6"/></g>
<g><path d="M123.9,314.5 A2.8,2.8 0 0 0 123.9,320.1 Z" fill="#2ca02c"/><path d="M123.9,314.5 A2.8,2.8 0 0 1 123.9,320.1 Z" fill="#a070d8"/><circle cx="123.9" cy="317.3" r="2.8" fill="none" stroke="#c8d0f0" stroke-width="0.6"/></g>
<g><path d="M134,310.2 A2.8,2.8 0 0 0 134,315.8 Z" fill="#2ca02c"/><path d="M134,310.2 A2.8,2.8 0 0 1 134,315.8 Z" fill="#a070d8"/><circle cx="134" cy="313" r="2.8" fill="none" stroke="#c8d0f0" stroke-width="0.6"/></g>
<g><path d="M140,309.2 A2.8,2.8 0 0 0 140,314.8 Z" fill="#2ca02c"/><path d="M140,309.2 A2.8,2.8 0 0 1 140,314.8 Z" fill="#a070d8"/><circle cx="140" cy="312" r="2.8" fill="none" stroke="#c8d0f0" stroke-width="0.6"/></g>
<g><path d="M148.3,295.6 A2.8,2.8 0 0 0 148.3,301.2 Z" fill="#2ca02c"/><path d="M148.3,295.6 A2.8,2.8 0 0 1 148.3,301.2 Z" fill="#a070d8"/><circle cx="148.3" cy="298.4" r="2.8" fill="none" stroke="#c8d0f0" stroke-width="0.6"/></g>
<g><path d="M172.2,312 A2.8,2.8 0 0 0 172.2,317.6 Z" fill="#2ca02c"/><path d="M172.2,312 A2.8,2.8 0 0 1 172.2,317.6 Z" fill="#a070d8"/><circle cx="172.2" cy="314.8" r="2.8" fill="none" stroke="#c8d0f0" stroke-width="0.6"/></g>
<g><path d="M195.5,300.2 A2.8,2.8 0 0 0 195.5,305.8 Z" fill="#2ca02c"/><path d="M195.5,300.2 A2.8,2.8 0 0 1 195.5,305.8 Z" fill="#a070d8"/><circle cx="195.5" cy="303" r="2.8" fill="none" stroke="#c8d0f0" stroke-width="0.6"/></g>
<g><path d="M223.4,298.3 A2.8,2.8 0 0 0 223.4,303.9 Z" fill="#2ca02c"/><path d="M223.4,298.3 A2.8,2.8 0 0 1 223.4,303.9 Z" fill="#a070d8"/><circle cx="223.4" cy="301.1" r="2.8" fill="none" stroke="#c8d0f0" stroke-width="0.6"/></g>
<g><path d="M225.5,312.3 A2.8,2.8 0 0 0 225.5,317.9 Z" fill="#2ca02c"/><path d="M225.5,312.3 A2.8,2.8 0 0 1 225.5,317.9 Z" fill="#a070d8"/><circle cx="225.5" cy="315.1" r="2.8" fill="none" stroke="#c8d0f0" stroke-width="0.6"/></g>
<g><path d="M238.3,306.6 A2.8,2.8 0 0 0 238.3,312.2 Z" fill="#2ca02c"/><path d="M238.3,306.6 A2.8,2.8 0 0 1 238.3,312.2 Z" fill="#a070d8"/><circle cx="238.3" cy="309.4" r="2.8" fill="none" stroke="#c8d0f0" stroke-width="0.6"/></g>
<g><path d="M278.3,297.6 A2.8,2.8 0 0 0 278.3,303.2 Z" fill="#2ca02c"/><path d="M278.3,297.6 A2.8,2.8 0 0 1 278.3,303.2 Z" fill="#a070d8"/><circle cx="278.3" cy="300.4" r="2.8" fill="none" stroke="#c8d0f0" stroke-width="0.6"/></g>
<g><path d="M372.3,297.4 A2.8,2.8 0 0 0 372.3,303 Z" fill="#2ca02c"/><path d="M372.3,297.4 A2.8,2.8 0 0 1 372.3,303 Z" fill="#a070d8"/><circle cx="372.3" cy="300.2" r="2.8" fill="none" stroke="#c8d0f0" stroke-width="0.6"/></g>
</g>
<rect x="37.6" y="278.1" width="355.9" height="109.4" fill="none" stroke="#8a8a8a" stroke-width="1.35"/>
<line x1="84" y1="387.5" x2="84" y2="384" stroke="#8a8a8a" stroke-width="1.0" />
<line x1="84" y1="278.1" x2="84" y2="281.6" stroke="#8a8a8a" stroke-width="1.0" />
<line x1="141.6" y1="387.5" x2="141.6" y2="384" stroke="#8a8a8a" stroke-width="1.0" />
<line x1="141.6" y1="278.1" x2="141.6" y2="281.6" stroke="#8a8a8a" stroke-width="1.0" />
<line x1="199.2" y1="387.5" x2="199.2" y2="384" stroke="#8a8a8a" stroke-width="1.0" />
<line x1="199.2" y1="278.1" x2="199.2" y2="281.6" stroke="#8a8a8a" stroke-width="1.0" />
<line x1="256.8" y1="387.5" x2="256.8" y2="384" stroke="#8a8a8a" stroke-width="1.0" />
<line x1="256.8" y1="278.1" x2="256.8" y2="281.6" stroke="#8a8a8a" stroke-width="1.0" />
<line x1="314.4" y1="387.5" x2="314.4" y2="384" stroke="#8a8a8a" stroke-width="1.0" />
<line x1="314.4" y1="278.1" x2="314.4" y2="281.6" stroke="#8a8a8a" stroke-width="1.0" />
<line x1="372" y1="387.5" x2="372" y2="384" stroke="#8a8a8a" stroke-width="1.0" />
<line x1="372" y1="278.1" x2="372" y2="281.6" stroke="#8a8a8a" stroke-width="1.0" />
<line x1="37.92" y1="387.5" x2="37.92" y2="385.5" stroke="#8a8a8a" stroke-width="1.0" />
<line x1="37.92" y1="278.1" x2="37.92" y2="280.1" stroke="#8a8a8a" stroke-width="1.0" />
<line x1="49.44" y1="387.5" x2="49.44" y2="385.5" stroke="#8a8a8a" stroke-width="1.0" />
<line x1="49.44" y1="278.1" x2="49.44" y2="280.1" stroke="#8a8a8a" stroke-width="1.0" />
<line x1="60.96" y1="387.5" x2="60.96" y2="385.5" stroke="#8a8a8a" stroke-width="1.0" />
<line x1="60.96" y1="278.1" x2="60.96" y2="280.1" stroke="#8a8a8a" stroke-width="1.0" />
<line x1="72.48" y1="387.5" x2="72.48" y2="385.5" stroke="#8a8a8a" stroke-width="1.0" />
<line x1="72.48" y1="278.1" x2="72.48" y2="280.1" stroke="#8a8a8a" stroke-width="1.0" />
<line x1="95.52" y1="387.5" x2="95.52" y2="385.5" stroke="#8a8a8a" stroke-width="1.0" />
<line x1="95.52" y1="278.1" x2="95.52" y2="280.1" stroke="#8a8a8a" stroke-width="1.0" />
<line x1="107.04" y1="387.5" x2="107.04" y2="385.5" stroke="#8a8a8a" stroke-width="1.0" />
<line x1="107.04" y1="278.1" x2="107.04" y2="280.1" stroke="#8a8a8a" stroke-width="1.0" />
<line x1="118.56" y1="387.5" x2="118.56" y2="385.5" stroke="#8a8a8a" stroke-width="1.0" />
<line x1="118.56" y1="278.1" x2="118.56" y2="280.1" stroke="#8a8a8a" stroke-width="1.0" />
<line x1="130.08" y1="387.5" x2="130.08" y2="385.5" stroke="#8a8a8a" stroke-width="1.0" />
<line x1="130.08" y1="278.1" x2="130.08" y2="280.1" stroke="#8a8a8a" stroke-width="1.0" />
<line x1="153.12" y1="387.5" x2="153.12" y2="385.5" stroke="#8a8a8a" stroke-width="1.0" />
<line x1="153.12" y1="278.1" x2="153.12" y2="280.1" stroke="#8a8a8a" stroke-width="1.0" />
<line x1="164.64" y1="387.5" x2="164.64" y2="385.5" stroke="#8a8a8a" stroke-width="1.0" />
<line x1="164.64" y1="278.1" x2="164.64" y2="280.1" stroke="#8a8a8a" stroke-width="1.0" />
<line x1="176.16" y1="387.5" x2="176.16" y2="385.5" stroke="#8a8a8a" stroke-width="1.0" />
<line x1="176.16" y1="278.1" x2="176.16" y2="280.1" stroke="#8a8a8a" stroke-width="1.0" />
<line x1="187.68" y1="387.5" x2="187.68" y2="385.5" stroke="#8a8a8a" stroke-width="1.0" />
<line x1="187.68" y1="278.1" x2="187.68" y2="280.1" stroke="#8a8a8a" stroke-width="1.0" />
<line x1="210.72" y1="387.5" x2="210.72" y2="385.5" stroke="#8a8a8a" stroke-width="1.0" />
<line x1="210.72" y1="278.1" x2="210.72" y2="280.1" stroke="#8a8a8a" stroke-width="1.0" />
<line x1="222.24" y1="387.5" x2="222.24" y2="385.5" stroke="#8a8a8a" stroke-width="1.0" />
<line x1="222.24" y1="278.1" x2="222.24" y2="280.1" stroke="#8a8a8a" stroke-width="1.0" />
<line x1="233.76" y1="387.5" x2="233.76" y2="385.5" stroke="#8a8a8a" stroke-width="1.0" />
<line x1="233.76" y1="278.1" x2="233.76" y2="280.1" stroke="#8a8a8a" stroke-width="1.0" />
<line x1="245.28" y1="387.5" x2="245.28" y2="385.5" stroke="#8a8a8a" stroke-width="1.0" />
<line x1="245.28" y1="278.1" x2="245.28" y2="280.1" stroke="#8a8a8a" stroke-width="1.0" />
<line x1="268.32" y1="387.5" x2="268.32" y2="385.5" stroke="#8a8a8a" stroke-width="1.0" />
<line x1="268.32" y1="278.1" x2="268.32" y2="280.1" stroke="#8a8a8a" stroke-width="1.0" />
<line x1="279.84" y1="387.5" x2="279.84" y2="385.5" stroke="#8a8a8a" stroke-width="1.0" />
<line x1="279.84" y1="278.1" x2="279.84" y2="280.1" stroke="#8a8a8a" stroke-width="1.0" />
<line x1="291.36" y1="387.5" x2="291.36" y2="385.5" stroke="#8a8a8a" stroke-width="1.0" />
<line x1="291.36" y1="278.1" x2="291.36" y2="280.1" stroke="#8a8a8a" stroke-width="1.0" />
<line x1="302.88" y1="387.5" x2="302.88" y2="385.5" stroke="#8a8a8a" stroke-width="1.0" />
<line x1="302.88" y1="278.1" x2="302.88" y2="280.1" stroke="#8a8a8a" stroke-width="1.0" />
<line x1="325.92" y1="387.5" x2="325.92" y2="385.5" stroke="#8a8a8a" stroke-width="1.0" />
<line x1="325.92" y1="278.1" x2="325.92" y2="280.1" stroke="#8a8a8a" stroke-width="1.0" />
<line x1="337.44" y1="387.5" x2="337.44" y2="385.5" stroke="#8a8a8a" stroke-width="1.0" />
<line x1="337.44" y1="278.1" x2="337.44" y2="280.1" stroke="#8a8a8a" stroke-width="1.0" />
<line x1="348.96" y1="387.5" x2="348.96" y2="385.5" stroke="#8a8a8a" stroke-width="1.0" />
<line x1="348.96" y1="278.1" x2="348.96" y2="280.1" stroke="#8a8a8a" stroke-width="1.0" />
<line x1="360.48" y1="387.5" x2="360.48" y2="385.5" stroke="#8a8a8a" stroke-width="1.0" />
<line x1="360.48" y1="278.1" x2="360.48" y2="280.1" stroke="#8a8a8a" stroke-width="1.0" />
<line x1="383.52" y1="387.5" x2="383.52" y2="385.5" stroke="#8a8a8a" stroke-width="1.0" />
<line x1="383.52" y1="278.1" x2="383.52" y2="280.1" stroke="#8a8a8a" stroke-width="1.0" />
<line x1="37.6" y1="386.8" x2="41.1" y2="386.8" stroke="#8a8a8a" stroke-width="1.0" />
<line x1="393.5" y1="386.8" x2="390" y2="386.8" stroke="#8a8a8a" stroke-width="1.0" />
<line x1="37.6" y1="346.7" x2="41.1" y2="346.7" stroke="#8a8a8a" stroke-width="1.0" />
<line x1="393.5" y1="346.7" x2="390" y2="346.7" stroke="#8a8a8a" stroke-width="1.0" />
<line x1="37.6" y1="306.6" x2="41.1" y2="306.6" stroke="#8a8a8a" stroke-width="1.0" />
<line x1="393.5" y1="306.6" x2="390" y2="306.6" stroke="#8a8a8a" stroke-width="1.0" />
<line x1="37.6" y1="376.78" x2="39.6" y2="376.78" stroke="#8a8a8a" stroke-width="1.0" />
<line x1="393.5" y1="376.78" x2="391.5" y2="376.78" stroke="#8a8a8a" stroke-width="1.0" />
<line x1="37.6" y1="366.75" x2="39.6" y2="366.75" stroke="#8a8a8a" stroke-width="1.0" />
<line x1="393.5" y1="366.75" x2="391.5" y2="366.75" stroke="#8a8a8a" stroke-width="1.0" />
<line x1="37.6" y1="356.73" x2="39.6" y2="356.73" stroke="#8a8a8a" stroke-width="1.0" />
<line x1="393.5" y1="356.73" x2="391.5" y2="356.73" stroke="#8a8a8a" stroke-width="1.0" />
<line x1="37.6" y1="336.68" x2="39.6" y2="336.68" stroke="#8a8a8a" stroke-width="1.0" />
<line x1="393.5" y1="336.68" x2="391.5" y2="336.68" stroke="#8a8a8a" stroke-width="1.0" />
<line x1="37.6" y1="326.65" x2="39.6" y2="326.65" stroke="#8a8a8a" stroke-width="1.0" />
<line x1="393.5" y1="326.65" x2="391.5" y2="326.65" stroke="#8a8a8a" stroke-width="1.0" />
<line x1="37.6" y1="316.62" x2="39.6" y2="316.62" stroke="#8a8a8a" stroke-width="1.0" />
<line x1="393.5" y1="316.62" x2="391.5" y2="316.62" stroke="#8a8a8a" stroke-width="1.0" />
<line x1="37.6" y1="296.57" x2="39.6" y2="296.57" stroke="#8a8a8a" stroke-width="1.0" />
<line x1="393.5" y1="296.57" x2="391.5" y2="296.57" stroke="#8a8a8a" stroke-width="1.0" />
<line x1="37.6" y1="286.55" x2="39.6" y2="286.55" stroke="#8a8a8a" stroke-width="1.0" />
<line x1="393.5" y1="286.55" x2="391.5" y2="286.55" stroke="#8a8a8a" stroke-width="1.0" />
<text x="84" y="396.8" font-size="9.8" text-anchor="middle" fill="#222" stroke="#222" stroke-width="0.12" textLength="5.72" lengthAdjust="spacing">5</text>
<text x="141.6" y="396.8" font-size="9.8" text-anchor="middle" fill="#222" stroke="#222" stroke-width="0.12" textLength="11.45" lengthAdjust="spacing">10</text>
<text x="199.2" y="396.8" font-size="9.8" text-anchor="middle" fill="#222" stroke="#222" stroke-width="0.12" textLength="11.45" lengthAdjust="spacing">15</text>
<text x="256.8" y="396.8" font-size="9.8" text-anchor="middle" fill="#222" stroke="#222" stroke-width="0.12" textLength="11.45" lengthAdjust="spacing">20</text>
<text x="314.4" y="396.8" font-size="9.8" text-anchor="middle" fill="#222" stroke="#222" stroke-width="0.12" textLength="11.45" lengthAdjust="spacing">25</text>
<text x="372" y="396.8" font-size="9.8" text-anchor="middle" fill="#222" stroke="#222" stroke-width="0.12" textLength="11.45" lengthAdjust="spacing">30</text>
<text x="34.3" y="390.2" font-size="9.8" text-anchor="end" fill="#222" stroke="#222" stroke-width="0.12" textLength="5.72" lengthAdjust="spacing">0</text>
<text x="34.3" y="350.1" font-size="9.8" text-anchor="end" fill="#222" stroke="#222" stroke-width="0.12" textLength="17.17" lengthAdjust="spacing">200</text>
<text x="34.3" y="310" font-size="9.8" text-anchor="end" fill="#222" stroke="#222" stroke-width="0.12" textLength="17.17" lengthAdjust="spacing">400</text>
<text x="12.4" y="340.3" font-size="12" text-anchor="middle" fill="#222" stroke="#222" stroke-width="0.2" textLength="33" lengthAdjust="spacingAndGlyphs" transform="rotate(-90 12.4 340.3)" >Π<tspan font-size="8.5" dy="2.5">0</tspan><tspan dy="-2.5"> [s]</tspan></text>
<text x="21.8" y="413.7" font-size="12.5" text-anchor="start" fill="#222" stroke="#222" stroke-width="0.2" textLength="14.2" lengthAdjust="spacingAndGlyphs" >(c)</text>
<text x="162.1" y="413.8" font-size="12" fill="#222" stroke="#222" stroke-width="0.2"><tspan font-style="italic">P</tspan><tspan font-style="italic" font-size="8.5" dy="2.2">n</tspan></text>
<text x="175.6" y="411" font-size="11" fill="#222" stroke="#222" stroke-width="0.2">·</text>
<path d="M178.7,408.5 L180.6,407.6 L182.6,414.6 L185.6,399.8 L234,399.8" fill="none" stroke="#222" stroke-width="0.9"/>
<text x="188.4" y="413.8" font-size="12" fill="#222" stroke="#222" stroke-width="0.2" textLength="42.4" lengthAdjust="spacingAndGlyphs"><tspan font-style="italic">ℓ</tspan>(<tspan font-style="italic">ℓ</tspan> + 1)</text>
<text x="237.8" y="413.8" font-size="12" text-anchor="start" fill="#222" stroke="#222" stroke-width="0.2" textLength="45.7" lengthAdjust="spacingAndGlyphs" >[1000s]</text>
<rect x="332.2" y="340.3" width="56" height="42.8" rx="2" fill="#fff" fill-opacity="0.5" stroke="#e8e8e8" stroke-width="0.8"/>
<circle cx="344.1" cy="348.4" r="2.8" fill="#008000"/>
<circle cx="344.1" cy="361.6" r="2.8" fill="#800080"/>
<g><path d="M344.1,371.4 A2.8,2.8 0 0 0 344.1,377 Z" fill="#2ca02c"/><path d="M344.1,371.4 A2.8,2.8 0 0 1 344.1,377 Z" fill="#a070d8"/><circle cx="344.1" cy="374.2" r="2.8" fill="none" stroke="#c8d0f0" stroke-width="0.6"/></g>
<text x="359.9" y="351.2" font-size="10.6" fill="#222" stroke="#222" stroke-width="0.2"><tspan font-style="italic">ℓ</tspan>=1</text>
<text x="359.9" y="364.4" font-size="10.6" fill="#222" stroke="#222" stroke-width="0.2"><tspan font-style="italic">ℓ</tspan>=2</text>
<text x="359.9" y="377.6" font-size="10.6" fill="#222" stroke="#222" stroke-width="0.2"><tspan font-style="italic">ℓ</tspan>=1,2</text>
</g>
<clipPath id="cdl"><rect x="428.3" y="1.3" width="145.09999999999997" height="386.09999999999997"/></clipPath>
<g clip-path="url(#cdl)">
<polyline points="530.4,-0.7 530.57,1.3 530.73,3.3 530.89,5.3 531.05,7.3 531.21,9.3 531.37,11.3 531.53,13.3 531.69,15.3 531.84,17.3 532,19.3 532.16,21.3 532.31,23.3 532.46,25.3 532.62,27.3 532.77,29.3 532.92,31.3 533.07,33.3 533.22,35.3 533.37,37.3 533.52,39.3 533.67,41.3 533.81,43.3 533.96,45.3 534.1,47.3 534.25,49.3 534.39,51.3 534.53,53.3 534.67,55.3 534.82,57.3 534.96,59.3 535.1,61.3 535.23,63.3 535.37,65.3 535.51,67.3 535.65,69.3 535.78,71.3 535.92,73.3 536.05,75.3 536.18,77.3 536.32,79.3 536.45,81.3 536.58,83.3 536.71,85.3 536.84,87.3 536.97,89.3 537.09,91.3 537.22,93.3 537.35,95.3 537.47,97.3 537.6,99.3 537.72,101.3 537.84,103.3 537.96,105.3 538.09,107.3 538.21,109.3 538.33,111.3 538.44,113.3 538.56,115.3 538.68,117.3 538.8,119.3 538.91,121.3 539.03,123.3 539.14,125.3 539.25,127.3 539.37,129.3 539.48,131.3 539.59,133.3 539.7,135.3 539.81,137.3 539.92,139.3 540.03,141.3 540.13,143.3 540.24,145.3 540.34,147.3 540.45,149.3 540.55,151.3 540.66,153.3 540.76,155.3 540.86,157.3 540.96,159.3 541.06,161.3 541.16,163.3 541.26,165.3 541.35,167.3 541.45,169.3 541.55,171.3 541.64,173.3 541.74,175.3 541.83,177.3 541.92,179.3 542.02,181.3 542.11,183.3 542.2,185.3 542.29,187.3 542.37,189.3 542.46,191.3 542.55,193.3 542.64,195.3 542.72,197.3 542.81,199.3 542.89,201.3 542.97,203.3 543.06,205.3 543.14,207.3 543.22,209.3 543.3,211.3 543.38,213.3 543.46,215.3 543.53,217.3 543.61,219.3 543.69,221.3 543.76,223.3 543.84,225.3 543.91,227.3 543.98,229.3 544.06,231.3 544.13,233.3 544.2,235.3 544.27,237.3 544.34,239.3 544.4,241.3 544.47,243.3 544.54,245.3 544.6,247.3 544.67,249.3 544.73,251.3 544.8,253.3 544.86,255.3 544.92,257.3 544.98,259.3 545.04,261.3 545.1,263.3 545.16,265.3 545.22,267.3 545.28,269.3 545.33,271.3 545.39,273.3 545.44,275.3 545.5,277.3 545.55,279.3 545.6,281.3 545.65,283.3 545.7,285.3 545.75,287.3 545.8,289.3 545.85,291.3 545.9,293.3 545.94,295.3 545.99,297.3 546.04,299.3 546.08,301.3 546.12,303.3 546.17,305.3 546.21,307.3 546.25,309.3 546.29,311.3 546.33,313.3 546.37,315.3 546.41,317.3 546.44,319.3 546.48,321.3 546.52,323.3 546.55,325.3 546.59,327.3 546.62,329.3 546.65,331.3 546.68,333.3 546.71,335.3 546.74,337.3 546.77,339.3 546.8,341.3 546.83,343.3 546.86,345.3 546.88,347.3 546.91,349.3 546.93,351.3 546.96,353.3 546.98,355.3 547,357.3 547.02,359.3 547.04,361.3 547.06,363.3 547.08,365.3 547.1,367.3 547.12,369.3 547.13,371.3 547.15,373.3 547.16,375.3 547.18,377.3 547.19,379.3 547.21,381.3 547.22,383.3 547.23,385.3 547.24,387.3 547.25,389.3" fill="none" stroke="#2ca02c" stroke-width="1.2" stroke-linejoin="round" stroke-dasharray="4.3 1 0.9 1" stroke-opacity="0.75"/>
<polyline points="564.2,-0.7 564.03,1.3 563.87,3.3 563.71,5.3 563.55,7.3 563.39,9.3 563.23,11.3 563.07,13.3 562.91,15.3 562.76,17.3 562.6,19.3 562.44,21.3 562.29,23.3 562.14,25.3 561.98,27.3 561.83,29.3 561.68,31.3 561.53,33.3 561.38,35.3 561.23,37.3 561.08,39.3 560.93,41.3 560.79,43.3 560.64,45.3 560.5,47.3 560.35,49.3 560.21,51.3 560.07,53.3 559.93,55.3 559.78,57.3 559.64,59.3 559.5,61.3 559.37,63.3 559.23,65.3 559.09,67.3 558.95,69.3 558.82,71.3 558.68,73.3 558.55,75.3 558.42,77.3 558.28,79.3 558.15,81.3 558.02,83.3 557.89,85.3 557.76,87.3 557.63,89.3 557.51,91.3 557.38,93.3 557.25,95.3 557.13,97.3 557,99.3 556.88,101.3 556.76,103.3 556.64,105.3 556.51,107.3 556.39,109.3 556.27,111.3 556.16,113.3 556.04,115.3 555.92,117.3 555.8,119.3 555.69,121.3 555.57,123.3 555.46,125.3 555.35,127.3 555.23,129.3 555.12,131.3 555.01,133.3 554.9,135.3 554.79,137.3 554.68,139.3 554.57,141.3 554.47,143.3 554.36,145.3 554.26,147.3 554.15,149.3 554.05,151.3 553.94,153.3 553.84,155.3 553.74,157.3 553.64,159.3 553.54,161.3 553.44,163.3 553.34,165.3 553.25,167.3 553.15,169.3 553.05,171.3 552.96,173.3 552.86,175.3 552.77,177.3 552.68,179.3 552.58,181.3 552.49,183.3 552.4,185.3 552.31,187.3 552.23,189.3 552.14,191.3 552.05,193.3 551.96,195.3 551.88,197.3 551.79,199.3 551.71,201.3 551.63,203.3 551.54,205.3 551.46,207.3 551.38,209.3 551.3,211.3 551.22,213.3 551.14,215.3 551.07,217.3 550.99,219.3 550.91,221.3 550.84,223.3 550.76,225.3 550.69,227.3 550.62,229.3 550.54,231.3 550.47,233.3 550.4,235.3 550.33,237.3 550.26,239.3 550.2,241.3 550.13,243.3 550.06,245.3 550,247.3 549.93,249.3 549.87,251.3 549.8,253.3 549.74,255.3 549.68,257.3 549.62,259.3 549.56,261.3 549.5,263.3 549.44,265.3 549.38,267.3 549.32,269.3 549.27,271.3 549.21,273.3 549.16,275.3 549.1,277.3 549.05,279.3 549,281.3 548.95,283.3 548.9,285.3 548.85,287.3 548.8,289.3 548.75,291.3 548.7,293.3 548.66,295.3 548.61,297.3 548.56,299.3 548.52,301.3 548.48,303.3 548.43,305.3 548.39,307.3 548.35,309.3 548.31,311.3 548.27,313.3 548.23,315.3 548.19,317.3 548.16,319.3 548.12,321.3 548.08,323.3 548.05,325.3 548.01,327.3 547.98,329.3 547.95,331.3 547.92,333.3 547.89,335.3 547.86,337.3 547.83,339.3 547.8,341.3 547.77,343.3 547.74,345.3 547.72,347.3 547.69,349.3 547.67,351.3 547.64,353.3 547.62,355.3 547.6,357.3 547.58,359.3 547.56,361.3 547.54,363.3 547.52,365.3 547.5,367.3 547.48,369.3 547.47,371.3 547.45,373.3 547.44,375.3 547.42,377.3 547.41,379.3 547.39,381.3 547.38,383.3 547.37,385.3 547.36,387.3 547.35,389.3" fill="none" stroke="#2ca02c" stroke-width="1.2" stroke-linejoin="round" stroke-dasharray="4.3 1 0.9 1" stroke-opacity="0.75"/>
<polyline points="547.3,-0.7 547.3,1.3 547.3,3.3 547.3,5.3 547.3,7.3 547.3,9.3 547.3,11.3 547.3,13.3 547.3,15.3 547.3,17.3 547.3,19.3 547.3,21.3 547.3,23.3 547.3,25.3 547.3,27.3 547.3,29.3 547.3,31.3 547.3,33.3 547.3,35.3 547.3,37.3 547.3,39.3 547.3,41.3 547.3,43.3 547.3,45.3 547.3,47.3 547.3,49.3 547.3,51.3 547.3,53.3 547.3,55.3 547.3,57.3 547.3,59.3 547.3,61.3 547.3,63.3 547.3,65.3 547.3,67.3 547.3,69.3 547.3,71.3 547.3,73.3 547.3,75.3 547.3,77.3 547.3,79.3 547.3,81.3 547.3,83.3 547.3,85.3 547.3,87.3 547.3,89.3 547.3,91.3 547.3,93.3 547.3,95.3 547.3,97.3 547.3,99.3 547.3,101.3 547.3,103.3 547.3,105.3 547.3,107.3 547.3,109.3 547.3,111.3 547.3,113.3 547.3,115.3 547.3,117.3 547.3,119.3 547.3,121.3 547.3,123.3 547.3,125.3 547.3,127.3 547.3,129.3 547.3,131.3 547.3,133.3 547.3,135.3 547.3,137.3 547.3,139.3 547.3,141.3 547.3,143.3 547.3,145.3 547.3,147.3 547.3,149.3 547.3,151.3 547.3,153.3 547.3,155.3 547.3,157.3 547.3,159.3 547.3,161.3 547.3,163.3 547.3,165.3 547.3,167.3 547.3,169.3 547.3,171.3 547.3,173.3 547.3,175.3 547.3,177.3 547.3,179.3 547.3,181.3 547.3,183.3 547.3,185.3 547.3,187.3 547.3,189.3 547.3,191.3 547.3,193.3 547.3,195.3 547.3,197.3 547.3,199.3 547.3,201.3 547.3,203.3 547.3,205.3 547.3,207.3 547.3,209.3 547.3,211.3 547.3,213.3 547.3,215.3 547.3,217.3 547.3,219.3 547.3,221.3 547.3,223.3 547.3,225.3 547.3,227.3 547.3,229.3 547.3,231.3 547.3,233.3 547.3,235.3 547.3,237.3 547.3,239.3 547.3,241.3 547.3,243.3 547.3,245.3 547.3,247.3 547.3,249.3 547.3,251.3 547.3,253.3 547.3,255.3 547.3,257.3 547.3,259.3 547.3,261.3 547.3,263.3 547.3,265.3 547.3,267.3 547.3,269.3 547.3,271.3 547.3,273.3 547.3,275.3 547.3,277.3 547.3,279.3 547.3,281.3 547.3,283.3 547.3,285.3 547.3,287.3 547.3,289.3 547.3,291.3 547.3,293.3 547.3,295.3 547.3,297.3 547.3,299.3 547.3,301.3 547.3,303.3 547.3,305.3 547.3,307.3 547.3,309.3 547.3,311.3 547.3,313.3 547.3,315.3 547.3,317.3 547.3,319.3 547.3,321.3 547.3,323.3 547.3,325.3 547.3,327.3 547.3,329.3 547.3,331.3 547.3,333.3 547.3,335.3 547.3,337.3 547.3,339.3 547.3,341.3 547.3,343.3 547.3,345.3 547.3,347.3 547.3,349.3 547.3,351.3 547.3,353.3 547.3,355.3 547.3,357.3 547.3,359.3 547.3,361.3 547.3,363.3 547.3,365.3 547.3,367.3 547.3,369.3 547.3,371.3 547.3,373.3 547.3,375.3 547.3,377.3 547.3,379.3 547.3,381.3 547.3,383.3 547.3,385.3 547.3,387.3 547.3,389.3" fill="none" stroke="#1a8a1a" stroke-width="1.3" stroke-linejoin="round" stroke-dasharray="4.3 1 0.9 1" stroke-opacity="0.95"/>
<g><path d="M510,21.4 A3.2,3.2 0 0 0 510,27.8 Z" fill="#2ca02c"/><path d="M510,21.4 A3.2,3.2 0 0 1 510,27.8 Z" fill="#a070d8"/><circle cx="510" cy="24.6" r="3.2" fill="none" stroke="#c8d0f0" stroke-width="0.6"/></g>
<circle cx="543.2" cy="34.3" r="2.1" fill="#c47cca"/>
<g><path d="M510,36.7 A3.2,3.2 0 0 0 510,43.1 Z" fill="#2ca02c"/><path d="M510,36.7 A3.2,3.2 0 0 1 510,43.1 Z" fill="#a070d8"/><circle cx="510" cy="39.9" r="3.2" fill="none" stroke="#c8d0f0" stroke-width="0.6"/></g>
<circle cx="519.1" cy="71.7" r="2.1" fill="#c47cca"/>
<circle cx="554.6" cy="100.2" r="2.1" fill="#c47cca"/>
<circle cx="566" cy="117.7" r="3.4" fill="#008000"/>
<circle cx="548.4" cy="124.4" r="2.1" fill="#c47cca"/>
<g><path d="M541.9,137.5 A3.2,3.2 0 0 0 541.9,143.9 Z" fill="#2ca02c"/><path d="M541.9,137.5 A3.2,3.2 0 0 1 541.9,143.9 Z" fill="#a070d8"/><circle cx="541.9" cy="140.7" r="3.2" fill="none" stroke="#c8d0f0" stroke-width="0.6"/></g>
<circle cx="535.9" cy="164.8" r="3.4" fill="#008000"/>
<polygon points="435.3,163.8 435.98,165.17 437.49,165.39 436.39,166.46 436.65,167.96 435.3,167.25 433.95,167.96 434.21,166.46 433.11,165.39 434.62,165.17" fill="#f0a024"/>
<polygon points="541.3,174.6 541.98,175.97 543.49,176.19 542.39,177.26 542.65,178.76 541.3,178.05 539.95,178.76 540.21,177.26 539.11,176.19 540.62,175.97" fill="#f0a024"/>
<g><path d="M565,180.1 A3.2,3.2 0 0 0 565,186.5 Z" fill="#2ca02c"/><path d="M565,180.1 A3.2,3.2 0 0 1 565,186.5 Z" fill="#a070d8"/><circle cx="565" cy="183.3" r="3.2" fill="none" stroke="#c8d0f0" stroke-width="0.6"/></g>
<circle cx="518.4" cy="194.2" r="2.1" fill="#c47cca"/>
<g><path d="M569.2,196.5 A3.2,3.2 0 0 0 569.2,202.9 Z" fill="#2ca02c"/><path d="M569.2,196.5 A3.2,3.2 0 0 1 569.2,202.9 Z" fill="#a070d8"/><circle cx="569.2" cy="199.7" r="3.2" fill="none" stroke="#c8d0f0" stroke-width="0.6"/></g>
<circle cx="540.6" cy="213.9" r="2.1" fill="#c47cca"/>
<polygon points="482,218.5 482.68,219.87 484.19,220.09 483.09,221.16 483.35,222.66 482,221.95 480.65,222.66 480.91,221.16 479.81,220.09 481.32,219.87" fill="#f0a024"/>
<g><path d="M526.8,226.4 A3.2,3.2 0 0 0 526.8,232.8 Z" fill="#2ca02c"/><path d="M526.8,226.4 A3.2,3.2 0 0 1 526.8,232.8 Z" fill="#a070d8"/><circle cx="526.8" cy="229.6" r="3.2" fill="none" stroke="#c8d0f0" stroke-width="0.6"/></g>
<polygon points="497.8,234.2 498.48,235.57 499.99,235.79 498.89,236.86 499.15,238.36 497.8,237.65 496.45,238.36 496.71,236.86 495.61,235.79 497.12,235.57" fill="#f0a024"/>
<circle cx="522.5" cy="243.6" r="3.4" fill="#008000"/>
<polygon points="478.8,243.2 479.48,244.57 480.99,244.79 479.89,245.86 480.15,247.36 478.8,246.65 477.45,247.36 477.71,245.86 476.61,244.79 478.12,244.57" fill="#f0a024"/>
<polygon points="554.2,247.1 554.88,248.47 556.39,248.69 555.29,249.76 555.55,251.26 554.2,250.55 552.85,251.26 553.11,249.76 552.01,248.69 553.52,248.47" fill="#f0a024"/>
<polygon points="518.4,249.5 519.08,250.87 520.59,251.09 519.49,252.16 519.75,253.66 518.4,252.95 517.05,253.66 517.31,252.16 516.21,251.09 517.72,250.87" fill="#f0a024"/>
<circle cx="501.9" cy="252.6" r="2.1" fill="#c47cca"/>
<circle cx="533.7" cy="258.6" r="3.4" fill="#008000"/>
<circle cx="535.2" cy="262.7" r="2.1" fill="#c47cca"/>
<polygon points="569.2,262.6 569.88,263.97 571.39,264.19 570.29,265.26 570.55,266.76 569.2,266.05 567.85,266.76 568.11,265.26 567.01,264.19 568.52,263.97" fill="#f0a024"/>
<polygon points="498.8,266.5 499.48,267.87 500.99,268.09 499.89,269.16 500.15,270.66 498.8,269.95 497.45,270.66 497.71,269.16 496.61,268.09 498.12,267.87" fill="#f0a024"/>
<circle cx="565.4" cy="272.4" r="2.1" fill="#c47cca"/>
<polygon points="529.2,281.5 529.88,282.87 531.39,283.09 530.29,284.16 530.55,285.66 529.2,284.95 527.85,285.66 528.11,284.16 527.01,283.09 528.52,282.87" fill="#f0a024"/>
<g><path d="M536.5,292 A3.2,3.2 0 0 0 536.5,298.4 Z" fill="#2ca02c"/><path d="M536.5,292 A3.2,3.2 0 0 1 536.5,298.4 Z" fill="#a070d8"/><circle cx="536.5" cy="295.2" r="3.2" fill="none" stroke="#c8d0f0" stroke-width="0.6"/></g>
<polygon points="461.6,301.6 462.28,302.97 463.79,303.19 462.69,304.26 462.95,305.76 461.6,305.05 460.25,305.76 460.51,304.26 459.41,303.19 460.92,302.97" fill="#f0a024"/>
<polygon points="473.9,300.5 474.58,301.87 476.09,302.09 474.99,303.16 475.25,304.66 473.9,303.95 472.55,304.66 472.81,303.16 471.71,302.09 473.22,301.87" fill="#f0a024"/>
<circle cx="560.2" cy="306.2" r="3.4" fill="#008000"/>
<polygon points="489.6,308 490.28,309.37 491.79,309.59 490.69,310.66 490.95,312.16 489.6,311.45 488.25,312.16 488.51,310.66 487.41,309.59 488.92,309.37" fill="#f0a024"/>
<circle cx="507.7" cy="310.3" r="2.1" fill="#c47cca"/>
<circle cx="549.9" cy="312" r="3.4" fill="#008000"/>
<polygon points="564.5,311.9 565.18,313.27 566.69,313.49 565.59,314.56 565.85,316.06 564.5,315.35 563.15,316.06 563.41,314.56 562.31,313.49 563.82,313.27" fill="#f0a024"/>
<circle cx="502.9" cy="318" r="3.3" fill="#008000"/>
<path d="M500.8,317.35 H502.25 V315.9 H503.55 V317.35 H505 V318.65 H503.55 V320.1 H502.25 V318.65 H500.8 Z" fill="#fff"/>
<circle cx="525.8" cy="318.6" r="2.1" fill="#c47cca"/>
<polygon points="486.8,324.6 487.48,325.97 488.99,326.19 487.89,327.26 488.15,328.76 486.8,328.05 485.45,328.76 485.71,327.26 484.61,326.19 486.12,325.97" fill="#f0a024"/>
<g><path d="M526.8,340.5 A3.2,3.2 0 0 0 526.8,346.9 Z" fill="#2ca02c"/><path d="M526.8,340.5 A3.2,3.2 0 0 1 526.8,346.9 Z" fill="#a070d8"/><circle cx="526.8" cy="343.7" r="3.2" fill="none" stroke="#c8d0f0" stroke-width="0.6"/></g>
<polygon points="570.3,344 570.98,345.37 572.49,345.59 571.39,346.66 571.65,348.16 570.3,347.45 568.95,348.16 569.21,346.66 568.11,345.59 569.62,345.37" fill="#f0a024"/>
<circle cx="511.1" cy="351" r="3.3" fill="#008000"/>
<path d="M509,350.35 H510.45 V348.9 H511.75 V350.35 H513.2 V351.65 H511.75 V353.1 H510.45 V351.65 H509 Z" fill="#fff"/>
<polygon points="472.4,358 473.08,359.37 474.59,359.59 473.49,360.66 473.75,362.16 472.4,361.45 471.05,362.16 471.31,360.66 470.21,359.59 471.72,359.37" fill="#f0a024"/>
<circle cx="529.2" cy="360.7" r="3.4" fill="#008000"/>
<circle cx="571" cy="362.9" r="2.1" fill="#c47cca"/>
<polygon points="476.2,366.2 476.88,367.57 478.39,367.79 477.29,368.86 477.55,370.36 476.2,369.65 474.85,370.36 475.11,368.86 474.01,367.79 475.52,367.57" fill="#f0a024"/>
<circle cx="524.2" cy="368.5" r="2.1" fill="#c47cca"/>
<polygon points="435.1,368.2 435.78,369.57 437.29,369.79 436.19,370.86 436.45,372.36 435.1,371.65 433.75,372.36 434.01,370.86 432.91,369.79 434.42,369.57" fill="#f0a024"/>
<polygon points="572.9,368.3 573.58,369.67 575.09,369.89 573.99,370.96 574.25,372.46 572.9,371.75 571.55,372.46 571.81,370.96 570.71,369.89 572.22,369.67" fill="#f0a024"/>
<polygon points="495,373 495.68,374.37 497.19,374.59 496.09,375.66 496.35,377.16 495,376.45 493.65,377.16 493.91,375.66 492.81,374.59 494.32,374.37" fill="#f0a024"/>
<polygon points="546,378.4 546.68,379.77 548.19,379.99 547.09,381.06 547.35,382.56 546,381.85 544.65,382.56 544.91,381.06 543.81,379.99 545.32,379.77" fill="#f0a024"/>
</g>
<rect x="428.3" y="1.3" width="145.1" height="386.1" fill="none" stroke="#8a8a8a" stroke-width="1.35"/>
<line x1="428.3" y1="351.3" x2="431.8" y2="351.3" stroke="#8a8a8a" stroke-width="1.0" />
<line x1="573.4" y1="351.3" x2="569.9" y2="351.3" stroke="#8a8a8a" stroke-width="1.0" />
<line x1="428.3" y1="290.36" x2="431.8" y2="290.36" stroke="#8a8a8a" stroke-width="1.0" />
<line x1="573.4" y1="290.36" x2="569.9" y2="290.36" stroke="#8a8a8a" stroke-width="1.0" />
<line x1="428.3" y1="229.42" x2="431.8" y2="229.42" stroke="#8a8a8a" stroke-width="1.0" />
<line x1="573.4" y1="229.42" x2="569.9" y2="229.42" stroke="#8a8a8a" stroke-width="1.0" />
<line x1="428.3" y1="168.48" x2="431.8" y2="168.48" stroke="#8a8a8a" stroke-width="1.0" />
<line x1="573.4" y1="168.48" x2="569.9" y2="168.48" stroke="#8a8a8a" stroke-width="1.0" />
<line x1="428.3" y1="107.54" x2="431.8" y2="107.54" stroke="#8a8a8a" stroke-width="1.0" />
<line x1="573.4" y1="107.54" x2="569.9" y2="107.54" stroke="#8a8a8a" stroke-width="1.0" />
<line x1="428.3" y1="46.6" x2="431.8" y2="46.6" stroke="#8a8a8a" stroke-width="1.0" />
<line x1="573.4" y1="46.6" x2="569.9" y2="46.6" stroke="#8a8a8a" stroke-width="1.0" />
<line x1="428.3" y1="381.77" x2="430.3" y2="381.77" stroke="#8a8a8a" stroke-width="1.0" />
<line x1="573.4" y1="381.77" x2="571.4" y2="381.77" stroke="#8a8a8a" stroke-width="1.0" />
<line x1="428.3" y1="366.54" x2="430.3" y2="366.54" stroke="#8a8a8a" stroke-width="1.0" />
<line x1="573.4" y1="366.54" x2="571.4" y2="366.54" stroke="#8a8a8a" stroke-width="1.0" />
<line x1="428.3" y1="336.06" x2="430.3" y2="336.06" stroke="#8a8a8a" stroke-width="1.0" />
<line x1="573.4" y1="336.06" x2="571.4" y2="336.06" stroke="#8a8a8a" stroke-width="1.0" />
<line x1="428.3" y1="320.83" x2="430.3" y2="320.83" stroke="#8a8a8a" stroke-width="1.0" />
<line x1="573.4" y1="320.83" x2="571.4" y2="320.83" stroke="#8a8a8a" stroke-width="1.0" />
<line x1="428.3" y1="305.6" x2="430.3" y2="305.6" stroke="#8a8a8a" stroke-width="1.0" />
<line x1="573.4" y1="305.6" x2="571.4" y2="305.6" stroke="#8a8a8a" stroke-width="1.0" />
<line x1="428.3" y1="275.12" x2="430.3" y2="275.12" stroke="#8a8a8a" stroke-width="1.0" />
<line x1="573.4" y1="275.12" x2="571.4" y2="275.12" stroke="#8a8a8a" stroke-width="1.0" />
<line x1="428.3" y1="259.89" x2="430.3" y2="259.89" stroke="#8a8a8a" stroke-width="1.0" />
<line x1="573.4" y1="259.89" x2="571.4" y2="259.89" stroke="#8a8a8a" stroke-width="1.0" />
<line x1="428.3" y1="244.66" x2="430.3" y2="244.66" stroke="#8a8a8a" stroke-width="1.0" />
<line x1="573.4" y1="244.66" x2="571.4" y2="244.66" stroke="#8a8a8a" stroke-width="1.0" />
<line x1="428.3" y1="214.18" x2="430.3" y2="214.18" stroke="#8a8a8a" stroke-width="1.0" />
<line x1="573.4" y1="214.18" x2="571.4" y2="214.18" stroke="#8a8a8a" stroke-width="1.0" />
<line x1="428.3" y1="198.95" x2="430.3" y2="198.95" stroke="#8a8a8a" stroke-width="1.0" />
<line x1="573.4" y1="198.95" x2="571.4" y2="198.95" stroke="#8a8a8a" stroke-width="1.0" />
<line x1="428.3" y1="183.72" x2="430.3" y2="183.72" stroke="#8a8a8a" stroke-width="1.0" />
<line x1="573.4" y1="183.72" x2="571.4" y2="183.72" stroke="#8a8a8a" stroke-width="1.0" />
<line x1="428.3" y1="153.25" x2="430.3" y2="153.25" stroke="#8a8a8a" stroke-width="1.0" />
<line x1="573.4" y1="153.25" x2="571.4" y2="153.25" stroke="#8a8a8a" stroke-width="1.0" />
<line x1="428.3" y1="138.01" x2="430.3" y2="138.01" stroke="#8a8a8a" stroke-width="1.0" />
<line x1="573.4" y1="138.01" x2="571.4" y2="138.01" stroke="#8a8a8a" stroke-width="1.0" />
<line x1="428.3" y1="122.78" x2="430.3" y2="122.78" stroke="#8a8a8a" stroke-width="1.0" />
<line x1="573.4" y1="122.78" x2="571.4" y2="122.78" stroke="#8a8a8a" stroke-width="1.0" />
<line x1="428.3" y1="92.31" x2="430.3" y2="92.31" stroke="#8a8a8a" stroke-width="1.0" />
<line x1="573.4" y1="92.31" x2="571.4" y2="92.31" stroke="#8a8a8a" stroke-width="1.0" />
<line x1="428.3" y1="77.07" x2="430.3" y2="77.07" stroke="#8a8a8a" stroke-width="1.0" />
<line x1="573.4" y1="77.07" x2="571.4" y2="77.07" stroke="#8a8a8a" stroke-width="1.0" />
<line x1="428.3" y1="61.84" x2="430.3" y2="61.84" stroke="#8a8a8a" stroke-width="1.0" />
<line x1="573.4" y1="61.84" x2="571.4" y2="61.84" stroke="#8a8a8a" stroke-width="1.0" />
<line x1="428.3" y1="31.37" x2="430.3" y2="31.37" stroke="#8a8a8a" stroke-width="1.0" />
<line x1="573.4" y1="31.37" x2="571.4" y2="31.37" stroke="#8a8a8a" stroke-width="1.0" />
<line x1="428.3" y1="16.13" x2="430.3" y2="16.13" stroke="#8a8a8a" stroke-width="1.0" />
<line x1="573.4" y1="16.13" x2="571.4" y2="16.13" stroke="#8a8a8a" stroke-width="1.0" />
<line x1="428.3" y1="0.9" x2="430.3" y2="0.9" stroke="#8a8a8a" stroke-width="1.0" />
<line x1="573.4" y1="0.9" x2="571.4" y2="0.9" stroke="#8a8a8a" stroke-width="1.0" />
<line x1="428.3" y1="387.4" x2="428.3" y2="383.9" stroke="#8a8a8a" stroke-width="1.0" />
<line x1="428.3" y1="1.3" x2="428.3" y2="4.8" stroke="#8a8a8a" stroke-width="1.0" />
<line x1="482.34" y1="387.4" x2="482.34" y2="383.9" stroke="#8a8a8a" stroke-width="1.0" />
<line x1="482.34" y1="1.3" x2="482.34" y2="4.8" stroke="#8a8a8a" stroke-width="1.0" />
<line x1="536.38" y1="387.4" x2="536.38" y2="383.9" stroke="#8a8a8a" stroke-width="1.0" />
<line x1="536.38" y1="1.3" x2="536.38" y2="4.8" stroke="#8a8a8a" stroke-width="1.0" />
<line x1="439.11" y1="387.4" x2="439.11" y2="385.4" stroke="#8a8a8a" stroke-width="1.0" />
<line x1="439.11" y1="1.3" x2="439.11" y2="3.3" stroke="#8a8a8a" stroke-width="1.0" />
<line x1="449.92" y1="387.4" x2="449.92" y2="385.4" stroke="#8a8a8a" stroke-width="1.0" />
<line x1="449.92" y1="1.3" x2="449.92" y2="3.3" stroke="#8a8a8a" stroke-width="1.0" />
<line x1="460.72" y1="387.4" x2="460.72" y2="385.4" stroke="#8a8a8a" stroke-width="1.0" />
<line x1="460.72" y1="1.3" x2="460.72" y2="3.3" stroke="#8a8a8a" stroke-width="1.0" />
<line x1="471.53" y1="387.4" x2="471.53" y2="385.4" stroke="#8a8a8a" stroke-width="1.0" />
<line x1="471.53" y1="1.3" x2="471.53" y2="3.3" stroke="#8a8a8a" stroke-width="1.0" />
<line x1="493.15" y1="387.4" x2="493.15" y2="385.4" stroke="#8a8a8a" stroke-width="1.0" />
<line x1="493.15" y1="1.3" x2="493.15" y2="3.3" stroke="#8a8a8a" stroke-width="1.0" />
<line x1="503.96" y1="387.4" x2="503.96" y2="385.4" stroke="#8a8a8a" stroke-width="1.0" />
<line x1="503.96" y1="1.3" x2="503.96" y2="3.3" stroke="#8a8a8a" stroke-width="1.0" />
<line x1="514.77" y1="387.4" x2="514.77" y2="385.4" stroke="#8a8a8a" stroke-width="1.0" />
<line x1="514.77" y1="1.3" x2="514.77" y2="3.3" stroke="#8a8a8a" stroke-width="1.0" />
<line x1="525.57" y1="387.4" x2="525.57" y2="385.4" stroke="#8a8a8a" stroke-width="1.0" />
<line x1="525.57" y1="1.3" x2="525.57" y2="3.3" stroke="#8a8a8a" stroke-width="1.0" />
<line x1="547.19" y1="387.4" x2="547.19" y2="385.4" stroke="#8a8a8a" stroke-width="1.0" />
<line x1="547.19" y1="1.3" x2="547.19" y2="3.3" stroke="#8a8a8a" stroke-width="1.0" />
<line x1="558" y1="387.4" x2="558" y2="385.4" stroke="#8a8a8a" stroke-width="1.0" />
<line x1="558" y1="1.3" x2="558" y2="3.3" stroke="#8a8a8a" stroke-width="1.0" />
<line x1="568.81" y1="387.4" x2="568.81" y2="385.4" stroke="#8a8a8a" stroke-width="1.0" />
<line x1="568.81" y1="1.3" x2="568.81" y2="3.3" stroke="#8a8a8a" stroke-width="1.0" />
<text x="428.3" y="396.6" font-size="9.8" text-anchor="middle" fill="#222" stroke="#222" stroke-width="0.12" textLength="5.72" lengthAdjust="spacing">0</text>
<text x="482.34" y="396.6" font-size="9.8" text-anchor="middle" fill="#222" stroke="#222" stroke-width="0.12" textLength="17.17" lengthAdjust="spacing">100</text>
<text x="536.38" y="396.6" font-size="9.8" text-anchor="middle" fill="#222" stroke="#222" stroke-width="0.12" textLength="17.17" lengthAdjust="spacing">200</text>
<text x="425.5" y="355.1" font-size="9.8" text-anchor="end" fill="#222" stroke="#222" stroke-width="0.12" textLength="5.72" lengthAdjust="spacing">2</text>
<text x="425.5" y="294.16" font-size="9.8" text-anchor="end" fill="#222" stroke="#222" stroke-width="0.12" textLength="5.72" lengthAdjust="spacing">4</text>
<text x="425.5" y="233.22" font-size="9.8" text-anchor="end" fill="#222" stroke="#222" stroke-width="0.12" textLength="5.72" lengthAdjust="spacing">6</text>
<text x="425.5" y="172.28" font-size="9.8" text-anchor="end" fill="#222" stroke="#222" stroke-width="0.12" textLength="5.72" lengthAdjust="spacing">8</text>
<text x="425.5" y="111.34" font-size="9.8" text-anchor="end" fill="#222" stroke="#222" stroke-width="0.12" textLength="11.45" lengthAdjust="spacing">10</text>
<text x="425.5" y="50.4" font-size="9.8" text-anchor="end" fill="#222" stroke="#222" stroke-width="0.12" textLength="11.45" lengthAdjust="spacing">12</text>
<clipPath id="cdr"><rect x="578.6" y="1.3" width="145.69999999999993" height="386.09999999999997"/></clipPath>
<g clip-path="url(#cdr)">
<polyline points="604.92,-0.7 604.64,1.3 604.36,3.3 604.08,5.3 603.81,7.3 603.53,9.3 603.26,11.3 602.98,13.3 602.71,15.3 602.44,17.3 602.18,19.3 601.91,21.3 601.64,23.3 601.38,25.3 601.12,27.3 600.86,29.3 600.6,31.3 600.34,33.3 600.08,35.3 599.82,37.3 599.57,39.3 599.32,41.3 599.06,43.3 598.81,45.3 598.56,47.3 598.32,49.3 598.07,51.3 597.83,53.3 597.58,55.3 597.34,57.3 597.1,59.3 596.86,61.3 596.62,63.3 596.38,65.3 596.15,67.3 595.91,69.3 595.68,71.3 595.45,73.3 595.22,75.3 594.99,77.3 594.76,79.3 594.54,81.3 594.31,83.3 594.09,85.3 593.87,87.3 593.65,89.3 593.43,91.3 593.21,93.3 592.99,95.3 592.78,97.3 592.57,99.3 592.35,101.3 592.14,103.3 591.93,105.3 591.72,107.3 591.52,109.3 591.31,111.3 591.11,113.3 590.91,115.3 590.7,117.3 590.5,119.3 590.31,121.3 590.11,123.3 589.91,125.3 589.72,127.3 589.52,129.3 589.33,131.3 589.14,133.3 588.95,135.3 588.76,137.3 588.58,139.3 588.39,141.3 588.21,143.3 588.03,145.3 587.85,147.3 587.67,149.3 587.49,151.3 587.31,153.3 587.14,155.3 586.96,157.3 586.79,159.3 586.62,161.3 586.45,163.3 586.28,165.3 586.11,167.3 585.94,169.3 585.78,171.3 585.62,173.3 585.45,175.3 585.29,177.3 585.13,179.3 584.98,181.3 584.82,183.3 584.66,185.3 584.51,187.3 584.36,189.3 584.21,191.3 584.06,193.3 583.91,195.3 583.76,197.3 583.62,199.3 583.47,201.3 583.33,203.3 583.19,205.3 583.05,207.3 582.91,209.3 582.77,211.3 582.64,213.3 582.5,215.3 582.37,217.3 582.24,219.3 582.1,221.3 581.98,223.3 581.85,225.3 581.72,227.3 581.6,229.3 581.47,231.3 581.35,233.3 581.23,235.3 581.11,237.3 580.99,239.3 580.87,241.3 580.76,243.3 580.64,245.3 580.53,247.3 580.42,249.3 580.31,251.3 580.2,253.3 580.09,255.3 579.99,257.3 579.88,259.3 579.78,261.3 579.68,263.3 579.57,265.3 579.48,267.3 579.38,269.3 579.28,271.3 579.19,273.3 579.09,275.3 579,277.3 578.91,279.3 578.82,281.3 578.73,283.3 578.64,285.3 578.56,287.3 578.47,289.3 578.39,291.3 578.31,293.3 578.23,295.3 578.15,297.3 578.07,299.3 577.99,301.3 577.92,303.3 577.85,305.3 577.77,307.3 577.7,309.3 577.63,311.3 577.57,313.3 577.5,315.3 577.43,317.3 577.37,319.3 577.31,321.3 577.25,323.3 577.19,325.3 577.13,327.3 577.07,329.3 577.01,331.3 576.96,333.3 576.91,335.3 576.86,337.3 576.81,339.3 576.76,341.3 576.71,343.3 576.66,345.3 576.62,347.3 576.57,349.3 576.53,351.3 576.49,353.3 576.45,355.3 576.41,357.3 576.38,359.3 576.34,361.3 576.31,363.3 576.27,365.3 576.24,367.3 576.21,369.3 576.19,371.3 576.16,373.3 576.13,375.3 576.11,377.3 576.08,379.3 576.06,381.3 576.04,383.3 576.02,385.3 576.01,387.3 575.99,389.3" fill="none" stroke="#900090" stroke-width="1.35" stroke-linejoin="round" stroke-dasharray="5.2 1.3 0.9 1.3" stroke-opacity="0.66"/>
<polyline points="692.48,-0.7 692.76,1.3 693.04,3.3 693.32,5.3 693.59,7.3 693.87,9.3 694.14,11.3 694.42,13.3 694.69,15.3 694.96,17.3 695.22,19.3 695.49,21.3 695.76,23.3 696.02,25.3 696.28,27.3 696.54,29.3 696.8,31.3 697.06,33.3 697.32,35.3 697.58,37.3 697.83,39.3 698.08,41.3 698.34,43.3 698.59,45.3 698.84,47.3 699.08,49.3 699.33,51.3 699.57,53.3 699.82,55.3 700.06,57.3 700.3,59.3 700.54,61.3 700.78,63.3 701.02,65.3 701.25,67.3 701.49,69.3 701.72,71.3 701.95,73.3 702.18,75.3 702.41,77.3 702.64,79.3 702.86,81.3 703.09,83.3 703.31,85.3 703.53,87.3 703.75,89.3 703.97,91.3 704.19,93.3 704.41,95.3 704.62,97.3 704.83,99.3 705.05,101.3 705.26,103.3 705.47,105.3 705.68,107.3 705.88,109.3 706.09,111.3 706.29,113.3 706.49,115.3 706.7,117.3 706.9,119.3 707.09,121.3 707.29,123.3 707.49,125.3 707.68,127.3 707.88,129.3 708.07,131.3 708.26,133.3 708.45,135.3 708.64,137.3 708.82,139.3 709.01,141.3 709.19,143.3 709.37,145.3 709.55,147.3 709.73,149.3 709.91,151.3 710.09,153.3 710.26,155.3 710.44,157.3 710.61,159.3 710.78,161.3 710.95,163.3 711.12,165.3 711.29,167.3 711.46,169.3 711.62,171.3 711.78,173.3 711.95,175.3 712.11,177.3 712.27,179.3 712.42,181.3 712.58,183.3 712.74,185.3 712.89,187.3 713.04,189.3 713.19,191.3 713.34,193.3 713.49,195.3 713.64,197.3 713.78,199.3 713.93,201.3 714.07,203.3 714.21,205.3 714.35,207.3 714.49,209.3 714.63,211.3 714.76,213.3 714.9,215.3 715.03,217.3 715.16,219.3 715.3,221.3 715.42,223.3 715.55,225.3 715.68,227.3 715.8,229.3 715.93,231.3 716.05,233.3 716.17,235.3 716.29,237.3 716.41,239.3 716.53,241.3 716.64,243.3 716.76,245.3 716.87,247.3 716.98,249.3 717.09,251.3 717.2,253.3 717.31,255.3 717.41,257.3 717.52,259.3 717.62,261.3 717.72,263.3 717.83,265.3 717.92,267.3 718.02,269.3 718.12,271.3 718.21,273.3 718.31,275.3 718.4,277.3 718.49,279.3 718.58,281.3 718.67,283.3 718.76,285.3 718.84,287.3 718.93,289.3 719.01,291.3 719.09,293.3 719.17,295.3 719.25,297.3 719.33,299.3 719.41,301.3 719.48,303.3 719.55,305.3 719.63,307.3 719.7,309.3 719.77,311.3 719.83,313.3 719.9,315.3 719.97,317.3 720.03,319.3 720.09,321.3 720.15,323.3 720.21,325.3 720.27,327.3 720.33,329.3 720.39,331.3 720.44,333.3 720.49,335.3 720.54,337.3 720.59,339.3 720.64,341.3 720.69,343.3 720.74,345.3 720.78,347.3 720.83,349.3 720.87,351.3 720.91,353.3 720.95,355.3 720.99,357.3 721.02,359.3 721.06,361.3 721.09,363.3 721.13,365.3 721.16,367.3 721.19,369.3 721.21,371.3 721.24,373.3 721.27,375.3 721.29,377.3 721.32,379.3 721.34,381.3 721.36,383.3 721.38,385.3 721.39,387.3 721.41,389.3" fill="none" stroke="#900090" stroke-width="1.45" stroke-linejoin="round" stroke-dasharray="5.2 1.3 0.9 1.3" stroke-opacity="0.8"/>
<polyline points="750.52,-0.7 750.24,1.3 749.96,3.3 749.68,5.3 749.41,7.3 749.13,9.3 748.86,11.3 748.58,13.3 748.31,15.3 748.04,17.3 747.78,19.3 747.51,21.3 747.24,23.3 746.98,25.3 746.72,27.3 746.46,29.3 746.2,31.3 745.94,33.3 745.68,35.3 745.42,37.3 745.17,39.3 744.92,41.3 744.66,43.3 744.41,45.3 744.16,47.3 743.92,49.3 743.67,51.3 743.43,53.3 743.18,55.3 742.94,57.3 742.7,59.3 742.46,61.3 742.22,63.3 741.98,65.3 741.75,67.3 741.51,69.3 741.28,71.3 741.05,73.3 740.82,75.3 740.59,77.3 740.36,79.3 740.14,81.3 739.91,83.3 739.69,85.3 739.47,87.3 739.25,89.3 739.03,91.3 738.81,93.3 738.59,95.3 738.38,97.3 738.17,99.3 737.95,101.3 737.74,103.3 737.53,105.3 737.32,107.3 737.12,109.3 736.91,111.3 736.71,113.3 736.51,115.3 736.3,117.3 736.1,119.3 735.91,121.3 735.71,123.3 735.51,125.3 735.32,127.3 735.12,129.3 734.93,131.3 734.74,133.3 734.55,135.3 734.36,137.3 734.18,139.3 733.99,141.3 733.81,143.3 733.63,145.3 733.45,147.3 733.27,149.3 733.09,151.3 732.91,153.3 732.74,155.3 732.56,157.3 732.39,159.3 732.22,161.3 732.05,163.3 731.88,165.3 731.71,167.3 731.54,169.3 731.38,171.3 731.22,173.3 731.05,175.3 730.89,177.3 730.73,179.3 730.58,181.3 730.42,183.3 730.26,185.3 730.11,187.3 729.96,189.3 729.81,191.3 729.66,193.3 729.51,195.3 729.36,197.3 729.22,199.3 729.07,201.3 728.93,203.3 728.79,205.3 728.65,207.3 728.51,209.3 728.37,211.3 728.24,213.3 728.1,215.3 727.97,217.3 727.84,219.3 727.7,221.3 727.58,223.3 727.45,225.3 727.32,227.3 727.2,229.3 727.07,231.3 726.95,233.3 726.83,235.3 726.71,237.3 726.59,239.3 726.47,241.3 726.36,243.3 726.24,245.3 726.13,247.3 726.02,249.3 725.91,251.3 725.8,253.3 725.69,255.3 725.59,257.3 725.48,259.3 725.38,261.3 725.28,263.3 725.17,265.3 725.08,267.3 724.98,269.3 724.88,271.3 724.79,273.3 724.69,275.3 724.6,277.3 724.51,279.3 724.42,281.3 724.33,283.3 724.24,285.3 724.16,287.3 724.07,289.3 723.99,291.3 723.91,293.3 723.83,295.3 723.75,297.3 723.67,299.3 723.59,301.3 723.52,303.3 723.45,305.3 723.37,307.3 723.3,309.3 723.23,311.3 723.17,313.3 723.1,315.3 723.03,317.3 722.97,319.3 722.91,321.3 722.85,323.3 722.79,325.3 722.73,327.3 722.67,329.3 722.61,331.3 722.56,333.3 722.51,335.3 722.46,337.3 722.41,339.3 722.36,341.3 722.31,343.3 722.26,345.3 722.22,347.3 722.17,349.3 722.13,351.3 722.09,353.3 722.05,355.3 722.01,357.3 721.98,359.3 721.94,361.3 721.91,363.3 721.87,365.3 721.84,367.3 721.81,369.3 721.79,371.3 721.76,373.3 721.73,375.3 721.71,377.3 721.68,379.3 721.66,381.3 721.64,383.3 721.62,385.3 721.61,387.3 721.59,389.3" fill="none" stroke="#900090" stroke-width="1.45" stroke-linejoin="round" stroke-dasharray="5.2 1.3 0.9 1.3" stroke-opacity="0.8"/>
<polyline points="633.39,-0.7 632.83,1.3 632.28,3.3 631.73,5.3 631.18,7.3 630.64,9.3 630.09,11.3 629.56,13.3 629.02,15.3 628.48,17.3 627.95,19.3 627.43,21.3 626.9,23.3 626.38,25.3 625.86,27.3 625.34,29.3 624.82,31.3 624.31,33.3 623.8,35.3 623.29,37.3 622.79,39.3 622.29,41.3 621.79,43.3 621.29,45.3 620.8,47.3 620.31,49.3 619.82,51.3 619.34,53.3 618.85,55.3 618.37,57.3 617.9,59.3 617.42,61.3 616.95,63.3 616.48,65.3 616.01,67.3 615.55,69.3 615.09,71.3 614.63,73.3 614.17,75.3 613.72,77.3 613.27,79.3 612.82,81.3 612.38,83.3 611.94,85.3 611.5,87.3 611.06,89.3 610.63,91.3 610.19,93.3 609.77,95.3 609.34,97.3 608.92,99.3 608.5,101.3 608.08,103.3 607.66,105.3 607.25,107.3 606.84,109.3 606.43,111.3 606.03,113.3 605.63,115.3 605.23,117.3 604.83,119.3 604.44,121.3 604.05,123.3 603.66,125.3 603.27,127.3 602.89,129.3 602.51,131.3 602.13,133.3 601.76,135.3 601.38,137.3 601.02,139.3 600.65,141.3 600.28,143.3 599.92,145.3 599.56,147.3 599.21,149.3 598.86,151.3 598.5,153.3 598.16,155.3 597.81,157.3 597.47,159.3 597.13,161.3 596.79,163.3 596.46,165.3 596.13,167.3 595.8,169.3 595.47,171.3 595.15,173.3 594.83,175.3 594.51,177.3 594.19,179.3 593.88,181.3 593.57,183.3 593.26,185.3 592.96,187.3 592.66,189.3 592.36,191.3 592.06,193.3 591.77,195.3 591.48,197.3 591.19,199.3 590.9,201.3 590.62,203.3 590.34,205.3 590.06,207.3 589.78,209.3 589.51,211.3 589.24,213.3 588.98,215.3 588.71,217.3 588.45,219.3 588.19,221.3 587.94,223.3 587.68,225.3 587.43,227.3 587.18,229.3 586.94,231.3 586.69,233.3 586.45,235.3 586.22,237.3 585.98,239.3 585.75,241.3 585.52,243.3 585.3,245.3 585.07,247.3 584.85,249.3 584.63,251.3 584.42,253.3 584.2,255.3 583.99,257.3 583.79,259.3 583.58,261.3 583.38,263.3 583.18,265.3 582.98,267.3 582.79,269.3 582.6,271.3 582.41,273.3 582.22,275.3 582.04,277.3 581.86,279.3 581.68,281.3 581.5,283.3 581.33,285.3 581.16,287.3 581,289.3 580.83,291.3 580.67,293.3 580.51,295.3 580.35,297.3 580.2,299.3 580.05,301.3 579.9,303.3 579.76,305.3 579.61,307.3 579.47,309.3 579.33,311.3 579.2,313.3 579.07,315.3 578.94,317.3 578.81,319.3 578.69,321.3 578.57,323.3 578.45,325.3 578.33,327.3 578.22,329.3 578.11,331.3 578,333.3 577.9,335.3 577.79,337.3 577.69,339.3 577.6,341.3 577.5,343.3 577.41,345.3 577.32,347.3 577.24,349.3 577.15,351.3 577.07,353.3 576.99,355.3 576.92,357.3 576.84,359.3 576.77,361.3 576.71,363.3 576.64,365.3 576.58,367.3 576.52,369.3 576.47,371.3 576.41,373.3 576.36,375.3 576.31,377.3 576.27,379.3 576.22,381.3 576.18,383.3 576.14,385.3 576.11,387.3 576.08,389.3" fill="none" stroke="#900090" stroke-width="1.35" stroke-linejoin="round" stroke-dasharray="5.2 1.3 0.9 1.3" stroke-opacity="0.66"/>
<polyline points="664.01,-0.7 664.57,1.3 665.12,3.3 665.67,5.3 666.22,7.3 666.76,9.3 667.31,11.3 667.84,13.3 668.38,15.3 668.92,17.3 669.45,19.3 669.97,21.3 670.5,23.3 671.02,25.3 671.54,27.3 672.06,29.3 672.58,31.3 673.09,33.3 673.6,35.3 674.11,37.3 674.61,39.3 675.11,41.3 675.61,43.3 676.11,45.3 676.6,47.3 677.09,49.3 677.58,51.3 678.06,53.3 678.55,55.3 679.03,57.3 679.5,59.3 679.98,61.3 680.45,63.3 680.92,65.3 681.39,67.3 681.85,69.3 682.31,71.3 682.77,73.3 683.23,75.3 683.68,77.3 684.13,79.3 684.58,81.3 685.02,83.3 685.46,85.3 685.9,87.3 686.34,89.3 686.77,91.3 687.21,93.3 687.63,95.3 688.06,97.3 688.48,99.3 688.9,101.3 689.32,103.3 689.74,105.3 690.15,107.3 690.56,109.3 690.97,111.3 691.37,113.3 691.77,115.3 692.17,117.3 692.57,119.3 692.96,121.3 693.35,123.3 693.74,125.3 694.13,127.3 694.51,129.3 694.89,131.3 695.27,133.3 695.64,135.3 696.02,137.3 696.38,139.3 696.75,141.3 697.12,143.3 697.48,145.3 697.84,147.3 698.19,149.3 698.54,151.3 698.9,153.3 699.24,155.3 699.59,157.3 699.93,159.3 700.27,161.3 700.61,163.3 700.94,165.3 701.27,167.3 701.6,169.3 701.93,171.3 702.25,173.3 702.57,175.3 702.89,177.3 703.21,179.3 703.52,181.3 703.83,183.3 704.14,185.3 704.44,187.3 704.74,189.3 705.04,191.3 705.34,193.3 705.63,195.3 705.92,197.3 706.21,199.3 706.5,201.3 706.78,203.3 707.06,205.3 707.34,207.3 707.62,209.3 707.89,211.3 708.16,213.3 708.42,215.3 708.69,217.3 708.95,219.3 709.21,221.3 709.46,223.3 709.72,225.3 709.97,227.3 710.22,229.3 710.46,231.3 710.71,233.3 710.95,235.3 711.18,237.3 711.42,239.3 711.65,241.3 711.88,243.3 712.1,245.3 712.33,247.3 712.55,249.3 712.77,251.3 712.98,253.3 713.2,255.3 713.41,257.3 713.61,259.3 713.82,261.3 714.02,263.3 714.22,265.3 714.42,267.3 714.61,269.3 714.8,271.3 714.99,273.3 715.18,275.3 715.36,277.3 715.54,279.3 715.72,281.3 715.9,283.3 716.07,285.3 716.24,287.3 716.4,289.3 716.57,291.3 716.73,293.3 716.89,295.3 717.05,297.3 717.2,299.3 717.35,301.3 717.5,303.3 717.64,305.3 717.79,307.3 717.93,309.3 718.07,311.3 718.2,313.3 718.33,315.3 718.46,317.3 718.59,319.3 718.71,321.3 718.83,323.3 718.95,325.3 719.07,327.3 719.18,329.3 719.29,331.3 719.4,333.3 719.5,335.3 719.61,337.3 719.71,339.3 719.8,341.3 719.9,343.3 719.99,345.3 720.08,347.3 720.16,349.3 720.25,351.3 720.33,353.3 720.41,355.3 720.48,357.3 720.56,359.3 720.63,361.3 720.69,363.3 720.76,365.3 720.82,367.3 720.88,369.3 720.93,371.3 720.99,373.3 721.04,375.3 721.09,377.3 721.13,379.3 721.18,381.3 721.22,383.3 721.26,385.3 721.29,387.3 721.32,389.3" fill="none" stroke="#900090" stroke-width="1.45" stroke-linejoin="round" stroke-dasharray="5.2 1.3 0.9 1.3" stroke-opacity="0.8"/>
<polyline points="778.99,-0.7 778.43,1.3 777.88,3.3 777.33,5.3 776.78,7.3 776.24,9.3 775.69,11.3 775.16,13.3 774.62,15.3 774.08,17.3 773.55,19.3 773.03,21.3 772.5,23.3 771.98,25.3 771.46,27.3 770.94,29.3 770.42,31.3 769.91,33.3 769.4,35.3 768.89,37.3 768.39,39.3 767.89,41.3 767.39,43.3 766.89,45.3 766.4,47.3 765.91,49.3 765.42,51.3 764.94,53.3 764.45,55.3 763.97,57.3 763.5,59.3 763.02,61.3 762.55,63.3 762.08,65.3 761.61,67.3 761.15,69.3 760.69,71.3 760.23,73.3 759.77,75.3 759.32,77.3 758.87,79.3 758.42,81.3 757.98,83.3 757.54,85.3 757.1,87.3 756.66,89.3 756.23,91.3 755.79,93.3 755.37,95.3 754.94,97.3 754.52,99.3 754.1,101.3 753.68,103.3 753.26,105.3 752.85,107.3 752.44,109.3 752.03,111.3 751.63,113.3 751.23,115.3 750.83,117.3 750.43,119.3 750.04,121.3 749.65,123.3 749.26,125.3 748.87,127.3 748.49,129.3 748.11,131.3 747.73,133.3 747.36,135.3 746.98,137.3 746.62,139.3 746.25,141.3 745.88,143.3 745.52,145.3 745.16,147.3 744.81,149.3 744.46,151.3 744.1,153.3 743.76,155.3 743.41,157.3 743.07,159.3 742.73,161.3 742.39,163.3 742.06,165.3 741.73,167.3 741.4,169.3 741.07,171.3 740.75,173.3 740.43,175.3 740.11,177.3 739.79,179.3 739.48,181.3 739.17,183.3 738.86,185.3 738.56,187.3 738.26,189.3 737.96,191.3 737.66,193.3 737.37,195.3 737.08,197.3 736.79,199.3 736.5,201.3 736.22,203.3 735.94,205.3 735.66,207.3 735.38,209.3 735.11,211.3 734.84,213.3 734.58,215.3 734.31,217.3 734.05,219.3 733.79,221.3 733.54,223.3 733.28,225.3 733.03,227.3 732.78,229.3 732.54,231.3 732.29,233.3 732.05,235.3 731.82,237.3 731.58,239.3 731.35,241.3 731.12,243.3 730.9,245.3 730.67,247.3 730.45,249.3 730.23,251.3 730.02,253.3 729.8,255.3 729.59,257.3 729.39,259.3 729.18,261.3 728.98,263.3 728.78,265.3 728.58,267.3 728.39,269.3 728.2,271.3 728.01,273.3 727.82,275.3 727.64,277.3 727.46,279.3 727.28,281.3 727.1,283.3 726.93,285.3 726.76,287.3 726.6,289.3 726.43,291.3 726.27,293.3 726.11,295.3 725.95,297.3 725.8,299.3 725.65,301.3 725.5,303.3 725.36,305.3 725.21,307.3 725.07,309.3 724.93,311.3 724.8,313.3 724.67,315.3 724.54,317.3 724.41,319.3 724.29,321.3 724.17,323.3 724.05,325.3 723.93,327.3 723.82,329.3 723.71,331.3 723.6,333.3 723.5,335.3 723.39,337.3 723.29,339.3 723.2,341.3 723.1,343.3 723.01,345.3 722.92,347.3 722.84,349.3 722.75,351.3 722.67,353.3 722.59,355.3 722.52,357.3 722.44,359.3 722.37,361.3 722.31,363.3 722.24,365.3 722.18,367.3 722.12,369.3 722.07,371.3 722.01,373.3 721.96,375.3 721.91,377.3 721.87,379.3 721.82,381.3 721.78,383.3 721.74,385.3 721.71,387.3 721.68,389.3" fill="none" stroke="#900090" stroke-width="1.45" stroke-linejoin="round" stroke-dasharray="5.2 1.3 0.9 1.3" stroke-opacity="0.8"/>
<polyline points="721.5,-0.7 721.5,1.3 721.5,3.3 721.5,5.3 721.5,7.3 721.5,9.3 721.5,11.3 721.5,13.3 721.5,15.3 721.5,17.3 721.5,19.3 721.5,21.3 721.5,23.3 721.5,25.3 721.5,27.3 721.5,29.3 721.5,31.3 721.5,33.3 721.5,35.3 721.5,37.3 721.5,39.3 721.5,41.3 721.5,43.3 721.5,45.3 721.5,47.3 721.5,49.3 721.5,51.3 721.5,53.3 721.5,55.3 721.5,57.3 721.5,59.3 721.5,61.3 721.5,63.3 721.5,65.3 721.5,67.3 721.5,69.3 721.5,71.3 721.5,73.3 721.5,75.3 721.5,77.3 721.5,79.3 721.5,81.3 721.5,83.3 721.5,85.3 721.5,87.3 721.5,89.3 721.5,91.3 721.5,93.3 721.5,95.3 721.5,97.3 721.5,99.3 721.5,101.3 721.5,103.3 721.5,105.3 721.5,107.3 721.5,109.3 721.5,111.3 721.5,113.3 721.5,115.3 721.5,117.3 721.5,119.3 721.5,121.3 721.5,123.3 721.5,125.3 721.5,127.3 721.5,129.3 721.5,131.3 721.5,133.3 721.5,135.3 721.5,137.3 721.5,139.3 721.5,141.3 721.5,143.3 721.5,145.3 721.5,147.3 721.5,149.3 721.5,151.3 721.5,153.3 721.5,155.3 721.5,157.3 721.5,159.3 721.5,161.3 721.5,163.3 721.5,165.3 721.5,167.3 721.5,169.3 721.5,171.3 721.5,173.3 721.5,175.3 721.5,177.3 721.5,179.3 721.5,181.3 721.5,183.3 721.5,185.3 721.5,187.3 721.5,189.3 721.5,191.3 721.5,193.3 721.5,195.3 721.5,197.3 721.5,199.3 721.5,201.3 721.5,203.3 721.5,205.3 721.5,207.3 721.5,209.3 721.5,211.3 721.5,213.3 721.5,215.3 721.5,217.3 721.5,219.3 721.5,221.3 721.5,223.3 721.5,225.3 721.5,227.3 721.5,229.3 721.5,231.3 721.5,233.3 721.5,235.3 721.5,237.3 721.5,239.3 721.5,241.3 721.5,243.3 721.5,245.3 721.5,247.3 721.5,249.3 721.5,251.3 721.5,253.3 721.5,255.3 721.5,257.3 721.5,259.3 721.5,261.3 721.5,263.3 721.5,265.3 721.5,267.3 721.5,269.3 721.5,271.3 721.5,273.3 721.5,275.3 721.5,277.3 721.5,279.3 721.5,281.3 721.5,283.3 721.5,285.3 721.5,287.3 721.5,289.3 721.5,291.3 721.5,293.3 721.5,295.3 721.5,297.3 721.5,299.3 721.5,301.3 721.5,303.3 721.5,305.3 721.5,307.3 721.5,309.3 721.5,311.3 721.5,313.3 721.5,315.3 721.5,317.3 721.5,319.3 721.5,321.3 721.5,323.3 721.5,325.3 721.5,327.3 721.5,329.3 721.5,331.3 721.5,333.3 721.5,335.3 721.5,337.3 721.5,339.3 721.5,341.3 721.5,343.3 721.5,345.3 721.5,347.3 721.5,349.3 721.5,351.3 721.5,353.3 721.5,355.3 721.5,357.3 721.5,359.3 721.5,361.3 721.5,363.3 721.5,365.3 721.5,367.3 721.5,369.3 721.5,371.3 721.5,373.3 721.5,375.3 721.5,377.3 721.5,379.3 721.5,381.3 721.5,383.3 721.5,385.3 721.5,387.3 721.5,389.3" fill="none" stroke="#800080" stroke-width="1.4" stroke-linejoin="round" stroke-dasharray="5.2 1.3 0.9 1.3" stroke-opacity="0.9"/>
<g><path d="M709.9,21.4 A3.2,3.2 0 0 0 709.9,27.8 Z" fill="#2ca02c"/><path d="M709.9,21.4 A3.2,3.2 0 0 1 709.9,27.8 Z" fill="#a070d8"/><circle cx="709.9" cy="24.6" r="3.2" fill="none" stroke="#c8d0f0" stroke-width="0.6"/></g>
<circle cx="700.9" cy="34.3" r="3.5" fill="#800080"/>
<g><path d="M687.3,36.7 A3.2,3.2 0 0 0 687.3,43.1 Z" fill="#2ca02c"/><path d="M687.3,36.7 A3.2,3.2 0 0 1 687.3,43.1 Z" fill="#a070d8"/><circle cx="687.3" cy="39.9" r="3.2" fill="none" stroke="#c8d0f0" stroke-width="0.6"/></g>
<circle cx="707.4" cy="71.7" r="3.5" fill="#800080"/>
<circle cx="691.2" cy="100.2" r="3.5" fill="#800080"/>
<circle cx="684.7" cy="117.7" r="2.3" fill="#74c474"/>
<circle cx="687.8" cy="124.4" r="3.5" fill="#800080"/>
<g><path d="M716.8,137.5 A3.2,3.2 0 0 0 716.8,143.9 Z" fill="#2ca02c"/><path d="M716.8,137.5 A3.2,3.2 0 0 1 716.8,143.9 Z" fill="#a070d8"/><circle cx="716.8" cy="140.7" r="3.2" fill="none" stroke="#c8d0f0" stroke-width="0.6"/></g>
<circle cx="719" cy="164.8" r="2.3" fill="#74c474"/>
<polygon points="668.6,163.8 669.28,165.17 670.79,165.39 669.69,166.46 669.95,167.96 668.6,167.25 667.25,167.96 667.51,166.46 666.41,165.39 667.92,165.17" fill="#f0a024"/>
<polygon points="647.1,174.6 647.78,175.97 649.29,176.19 648.19,177.26 648.45,178.76 647.1,178.05 645.75,178.76 646.01,177.26 644.91,176.19 646.42,175.97" fill="#f0a024"/>
<g><path d="M714.2,180.1 A3.2,3.2 0 0 0 714.2,186.5 Z" fill="#2ca02c"/><path d="M714.2,180.1 A3.2,3.2 0 0 1 714.2,186.5 Z" fill="#a070d8"/><circle cx="714.2" cy="183.3" r="3.2" fill="none" stroke="#c8d0f0" stroke-width="0.6"/></g>
<circle cx="700.7" cy="194.2" r="3.5" fill="#800080"/>
<g><path d="M686.9,196.5 A3.2,3.2 0 0 0 686.9,202.9 Z" fill="#2ca02c"/><path d="M686.9,196.5 A3.2,3.2 0 0 1 686.9,202.9 Z" fill="#a070d8"/><circle cx="686.9" cy="199.7" r="3.2" fill="none" stroke="#c8d0f0" stroke-width="0.6"/></g>
<circle cx="696.4" cy="213.9" r="3.5" fill="#800080"/>
<polygon points="631.8,218.5 632.48,219.87 633.99,220.09 632.89,221.16 633.15,222.66 631.8,221.95 630.45,222.66 630.71,221.16 629.61,220.09 631.12,219.87" fill="#f0a024"/>
<g><path d="M666.2,226.4 A3.2,3.2 0 0 0 666.2,232.8 Z" fill="#2ca02c"/><path d="M666.2,226.4 A3.2,3.2 0 0 1 666.2,232.8 Z" fill="#a070d8"/><circle cx="666.2" cy="229.6" r="3.2" fill="none" stroke="#c8d0f0" stroke-width="0.6"/></g>
<polygon points="604.9,234.2 605.58,235.57 607.09,235.79 605.99,236.86 606.25,238.36 604.9,237.65 603.55,238.36 603.81,236.86 602.71,235.79 604.22,235.57" fill="#f0a024"/>
<circle cx="691.6" cy="243.6" r="2.3" fill="#74c474"/>
<polygon points="618.9,243.2 619.58,244.57 621.09,244.79 619.99,245.86 620.25,247.36 618.9,246.65 617.55,247.36 617.81,245.86 616.71,244.79 618.22,244.57" fill="#f0a024"/>
<polygon points="646,247.1 646.68,248.47 648.19,248.69 647.09,249.76 647.35,251.26 646,250.55 644.65,251.26 644.91,249.76 643.81,248.69 645.32,248.47" fill="#f0a024"/>
<polygon points="585.5,249.5 586.18,250.87 587.69,251.09 586.59,252.16 586.85,253.66 585.5,252.95 584.15,253.66 584.41,252.16 583.31,251.09 584.82,250.87" fill="#f0a024"/>
<circle cx="700.2" cy="252.6" r="3.5" fill="#800080"/>
<circle cx="657.2" cy="258.6" r="2.3" fill="#74c474"/>
<circle cx="689.9" cy="262.7" r="3.5" fill="#800080"/>
<polygon points="618.4,262.6 619.08,263.97 620.59,264.19 619.49,265.26 619.75,266.76 618.4,266.05 617.05,266.76 617.31,265.26 616.21,264.19 617.72,263.97" fill="#f0a024"/>
<polygon points="644.3,266.5 644.98,267.87 646.49,268.09 645.39,269.16 645.65,270.66 644.3,269.95 642.95,270.66 643.21,269.16 642.11,268.09 643.62,267.87" fill="#f0a024"/>
<circle cx="685.2" cy="272.4" r="3.3" fill="#800080"/>
<path d="M683.1,271.75 H684.55 V270.3 H685.85 V271.75 H687.3 V273.05 H685.85 V274.5 H684.55 V273.05 H683.1 Z" fill="#fff"/>
<polygon points="642.1,281.5 642.78,282.87 644.29,283.09 643.19,284.16 643.45,285.66 642.1,284.95 640.75,285.66 641.01,284.16 639.91,283.09 641.42,282.87" fill="#f0a024"/>
<g><path d="M721.8,292 A3.2,3.2 0 0 0 721.8,298.4 Z" fill="#2ca02c"/><path d="M721.8,292 A3.2,3.2 0 0 1 721.8,298.4 Z" fill="#a070d8"/><circle cx="721.8" cy="295.2" r="3.2" fill="none" stroke="#c8d0f0" stroke-width="0.6"/></g>
<polygon points="620.2,301.6 620.88,302.97 622.39,303.19 621.29,304.26 621.55,305.76 620.2,305.05 618.85,305.76 619.11,304.26 618.01,303.19 619.52,302.97" fill="#f0a024"/>
<polygon points="640.2,300.5 640.88,301.87 642.39,302.09 641.29,303.16 641.55,304.66 640.2,303.95 638.85,304.66 639.11,303.16 638.01,302.09 639.52,301.87" fill="#f0a024"/>
<circle cx="686.3" cy="306.2" r="2.3" fill="#74c474"/>
<polygon points="712.7,308 713.38,309.37 714.89,309.59 713.79,310.66 714.05,312.16 712.7,311.45 711.35,312.16 711.61,310.66 710.51,309.59 712.02,309.37" fill="#f0a024"/>
<circle cx="720.7" cy="310.3" r="3.5" fill="#800080"/>
<circle cx="653.5" cy="312" r="2.3" fill="#74c474"/>
<polygon points="594.8,311.9 595.48,313.27 596.99,313.49 595.89,314.56 596.15,316.06 594.8,315.35 593.45,316.06 593.71,314.56 592.61,313.49 594.12,313.27" fill="#f0a024"/>
<circle cx="672.7" cy="318" r="2.3" fill="#74c474"/>
<circle cx="711.7" cy="318.6" r="3.5" fill="#800080"/>
<polygon points="654.6,324.6 655.28,325.97 656.79,326.19 655.69,327.26 655.95,328.76 654.6,328.05 653.25,328.76 653.51,327.26 652.41,326.19 653.92,325.97" fill="#f0a024"/>
<g><path d="M720.7,340.5 A3.2,3.2 0 0 0 720.7,346.9 Z" fill="#2ca02c"/><path d="M720.7,340.5 A3.2,3.2 0 0 1 720.7,346.9 Z" fill="#a070d8"/><circle cx="720.7" cy="343.7" r="3.2" fill="none" stroke="#c8d0f0" stroke-width="0.6"/></g>
<polygon points="642.3,344 642.98,345.37 644.49,345.59 643.39,346.66 643.65,348.16 642.3,347.45 640.95,348.16 641.21,346.66 640.11,345.59 641.62,345.37" fill="#f0a024"/>
<circle cx="653.5" cy="351" r="2.3" fill="#74c474"/>
<polygon points="667.3,358 667.98,359.37 669.49,359.59 668.39,360.66 668.65,362.16 667.3,361.45 665.95,362.16 666.21,360.66 665.11,359.59 666.62,359.37" fill="#f0a024"/>
<circle cx="669" cy="360.7" r="2.3" fill="#74c474"/>
<circle cx="713.2" cy="362.9" r="3.5" fill="#800080"/>
<polygon points="720.6,366.2 721.28,367.57 722.79,367.79 721.69,368.86 721.95,370.36 720.6,369.65 719.25,370.36 719.51,368.86 718.41,367.79 719.92,367.57" fill="#f0a024"/>
<circle cx="722.4" cy="368.5" r="3.5" fill="#800080"/>
<polygon points="639.5,368.2 640.18,369.57 641.69,369.79 640.59,370.86 640.85,372.36 639.5,371.65 638.15,372.36 638.41,370.86 637.31,369.79 638.82,369.57" fill="#f0a024"/>
<polygon points="651.4,368.3 652.08,369.67 653.59,369.89 652.49,370.96 652.75,372.46 651.4,371.75 650.05,372.46 650.31,370.96 649.21,369.89 650.72,369.67" fill="#f0a024"/>
<polygon points="652.5,373 653.18,374.37 654.69,374.59 653.59,375.66 653.85,377.16 652.5,376.45 651.15,377.16 651.41,375.66 650.31,374.59 651.82,374.37" fill="#f0a024"/>
<polygon points="639.3,378.4 639.98,379.77 641.49,379.99 640.39,381.06 640.65,382.56 639.3,381.85 637.95,382.56 638.21,381.06 637.11,379.99 638.62,379.77" fill="#f0a024"/>
</g>
<rect x="578.6" y="1.3" width="145.7" height="386.1" fill="none" stroke="#8a8a8a" stroke-width="1.35"/>
<line x1="578.6" y1="351.3" x2="582.1" y2="351.3" stroke="#8a8a8a" stroke-width="1.0" />
<line x1="724.3" y1="351.3" x2="720.8" y2="351.3" stroke="#8a8a8a" stroke-width="1.0" />
<line x1="578.6" y1="290.36" x2="582.1" y2="290.36" stroke="#8a8a8a" stroke-width="1.0" />
<line x1="724.3" y1="290.36" x2="720.8" y2="290.36" stroke="#8a8a8a" stroke-width="1.0" />
<line x1="578.6" y1="229.42" x2="582.1" y2="229.42" stroke="#8a8a8a" stroke-width="1.0" />
<line x1="724.3" y1="229.42" x2="720.8" y2="229.42" stroke="#8a8a8a" stroke-width="1.0" />
<line x1="578.6" y1="168.48" x2="582.1" y2="168.48" stroke="#8a8a8a" stroke-width="1.0" />
<line x1="724.3" y1="168.48" x2="720.8" y2="168.48" stroke="#8a8a8a" stroke-width="1.0" />
<line x1="578.6" y1="107.54" x2="582.1" y2="107.54" stroke="#8a8a8a" stroke-width="1.0" />
<line x1="724.3" y1="107.54" x2="720.8" y2="107.54" stroke="#8a8a8a" stroke-width="1.0" />
<line x1="578.6" y1="46.6" x2="582.1" y2="46.6" stroke="#8a8a8a" stroke-width="1.0" />
<line x1="724.3" y1="46.6" x2="720.8" y2="46.6" stroke="#8a8a8a" stroke-width="1.0" />
<line x1="578.6" y1="381.77" x2="580.6" y2="381.77" stroke="#8a8a8a" stroke-width="1.0" />
<line x1="724.3" y1="381.77" x2="722.3" y2="381.77" stroke="#8a8a8a" stroke-width="1.0" />
<line x1="578.6" y1="366.54" x2="580.6" y2="366.54" stroke="#8a8a8a" stroke-width="1.0" />
<line x1="724.3" y1="366.54" x2="722.3" y2="366.54" stroke="#8a8a8a" stroke-width="1.0" />
<line x1="578.6" y1="336.06" x2="580.6" y2="336.06" stroke="#8a8a8a" stroke-width="1.0" />
<line x1="724.3" y1="336.06" x2="722.3" y2="336.06" stroke="#8a8a8a" stroke-width="1.0" />
<line x1="578.6" y1="320.83" x2="580.6" y2="320.83" stroke="#8a8a8a" stroke-width="1.0" />
<line x1="724.3" y1="320.83" x2="722.3" y2="320.83" stroke="#8a8a8a" stroke-width="1.0" />
<line x1="578.6" y1="305.6" x2="580.6" y2="305.6" stroke="#8a8a8a" stroke-width="1.0" />
<line x1="724.3" y1="305.6" x2="722.3" y2="305.6" stroke="#8a8a8a" stroke-width="1.0" />
<line x1="578.6" y1="275.12" x2="580.6" y2="275.12" stroke="#8a8a8a" stroke-width="1.0" />
<line x1="724.3" y1="275.12" x2="722.3" y2="275.12" stroke="#8a8a8a" stroke-width="1.0" />
<line x1="578.6" y1="259.89" x2="580.6" y2="259.89" stroke="#8a8a8a" stroke-width="1.0" />
<line x1="724.3" y1="259.89" x2="722.3" y2="259.89" stroke="#8a8a8a" stroke-width="1.0" />
<line x1="578.6" y1="244.66" x2="580.6" y2="244.66" stroke="#8a8a8a" stroke-width="1.0" />
<line x1="724.3" y1="244.66" x2="722.3" y2="244.66" stroke="#8a8a8a" stroke-width="1.0" />
<line x1="578.6" y1="214.18" x2="580.6" y2="214.18" stroke="#8a8a8a" stroke-width="1.0" />
<line x1="724.3" y1="214.18" x2="722.3" y2="214.18" stroke="#8a8a8a" stroke-width="1.0" />
<line x1="578.6" y1="198.95" x2="580.6" y2="198.95" stroke="#8a8a8a" stroke-width="1.0" />
<line x1="724.3" y1="198.95" x2="722.3" y2="198.95" stroke="#8a8a8a" stroke-width="1.0" />
<line x1="578.6" y1="183.72" x2="580.6" y2="183.72" stroke="#8a8a8a" stroke-width="1.0" />
<line x1="724.3" y1="183.72" x2="722.3" y2="183.72" stroke="#8a8a8a" stroke-width="1.0" />
<line x1="578.6" y1="153.25" x2="580.6" y2="153.25" stroke="#8a8a8a" stroke-width="1.0" />
<line x1="724.3" y1="153.25" x2="722.3" y2="153.25" stroke="#8a8a8a" stroke-width="1.0" />
<line x1="578.6" y1="138.01" x2="580.6" y2="138.01" stroke="#8a8a8a" stroke-width="1.0" />
<line x1="724.3" y1="138.01" x2="722.3" y2="138.01" stroke="#8a8a8a" stroke-width="1.0" />
<line x1="578.6" y1="122.78" x2="580.6" y2="122.78" stroke="#8a8a8a" stroke-width="1.0" />
<line x1="724.3" y1="122.78" x2="722.3" y2="122.78" stroke="#8a8a8a" stroke-width="1.0" />
<line x1="578.6" y1="92.31" x2="580.6" y2="92.31" stroke="#8a8a8a" stroke-width="1.0" />
<line x1="724.3" y1="92.31" x2="722.3" y2="92.31" stroke="#8a8a8a" stroke-width="1.0" />
<line x1="578.6" y1="77.07" x2="580.6" y2="77.07" stroke="#8a8a8a" stroke-width="1.0" />
<line x1="724.3" y1="77.07" x2="722.3" y2="77.07" stroke="#8a8a8a" stroke-width="1.0" />
<line x1="578.6" y1="61.84" x2="580.6" y2="61.84" stroke="#8a8a8a" stroke-width="1.0" />
<line x1="724.3" y1="61.84" x2="722.3" y2="61.84" stroke="#8a8a8a" stroke-width="1.0" />
<line x1="578.6" y1="31.37" x2="580.6" y2="31.37" stroke="#8a8a8a" stroke-width="1.0" />
<line x1="724.3" y1="31.37" x2="722.3" y2="31.37" stroke="#8a8a8a" stroke-width="1.0" />
<line x1="578.6" y1="16.13" x2="580.6" y2="16.13" stroke="#8a8a8a" stroke-width="1.0" />
<line x1="724.3" y1="16.13" x2="722.3" y2="16.13" stroke="#8a8a8a" stroke-width="1.0" />
<line x1="578.6" y1="0.9" x2="580.6" y2="0.9" stroke="#8a8a8a" stroke-width="1.0" />
<line x1="724.3" y1="0.9" x2="722.3" y2="0.9" stroke="#8a8a8a" stroke-width="1.0" />
<line x1="578.6" y1="387.4" x2="578.6" y2="383.9" stroke="#8a8a8a" stroke-width="1.0" />
<line x1="578.6" y1="1.3" x2="578.6" y2="4.8" stroke="#8a8a8a" stroke-width="1.0" />
<line x1="624.3" y1="387.4" x2="624.3" y2="383.9" stroke="#8a8a8a" stroke-width="1.0" />
<line x1="624.3" y1="1.3" x2="624.3" y2="4.8" stroke="#8a8a8a" stroke-width="1.0" />
<line x1="670.01" y1="387.4" x2="670.01" y2="383.9" stroke="#8a8a8a" stroke-width="1.0" />
<line x1="670.01" y1="1.3" x2="670.01" y2="4.8" stroke="#8a8a8a" stroke-width="1.0" />
<line x1="715.71" y1="387.4" x2="715.71" y2="383.9" stroke="#8a8a8a" stroke-width="1.0" />
<line x1="715.71" y1="1.3" x2="715.71" y2="4.8" stroke="#8a8a8a" stroke-width="1.0" />
<line x1="587.74" y1="387.4" x2="587.74" y2="385.4" stroke="#8a8a8a" stroke-width="1.0" />
<line x1="587.74" y1="1.3" x2="587.74" y2="3.3" stroke="#8a8a8a" stroke-width="1.0" />
<line x1="596.88" y1="387.4" x2="596.88" y2="385.4" stroke="#8a8a8a" stroke-width="1.0" />
<line x1="596.88" y1="1.3" x2="596.88" y2="3.3" stroke="#8a8a8a" stroke-width="1.0" />
<line x1="606.02" y1="387.4" x2="606.02" y2="385.4" stroke="#8a8a8a" stroke-width="1.0" />
<line x1="606.02" y1="1.3" x2="606.02" y2="3.3" stroke="#8a8a8a" stroke-width="1.0" />
<line x1="615.16" y1="387.4" x2="615.16" y2="385.4" stroke="#8a8a8a" stroke-width="1.0" />
<line x1="615.16" y1="1.3" x2="615.16" y2="3.3" stroke="#8a8a8a" stroke-width="1.0" />
<line x1="633.44" y1="387.4" x2="633.44" y2="385.4" stroke="#8a8a8a" stroke-width="1.0" />
<line x1="633.44" y1="1.3" x2="633.44" y2="3.3" stroke="#8a8a8a" stroke-width="1.0" />
<line x1="642.58" y1="387.4" x2="642.58" y2="385.4" stroke="#8a8a8a" stroke-width="1.0" />
<line x1="642.58" y1="1.3" x2="642.58" y2="3.3" stroke="#8a8a8a" stroke-width="1.0" />
<line x1="651.72" y1="387.4" x2="651.72" y2="385.4" stroke="#8a8a8a" stroke-width="1.0" />
<line x1="651.72" y1="1.3" x2="651.72" y2="3.3" stroke="#8a8a8a" stroke-width="1.0" />
<line x1="660.86" y1="387.4" x2="660.86" y2="385.4" stroke="#8a8a8a" stroke-width="1.0" />
<line x1="660.86" y1="1.3" x2="660.86" y2="3.3" stroke="#8a8a8a" stroke-width="1.0" />
<line x1="679.15" y1="387.4" x2="679.15" y2="385.4" stroke="#8a8a8a" stroke-width="1.0" />
<line x1="679.15" y1="1.3" x2="679.15" y2="3.3" stroke="#8a8a8a" stroke-width="1.0" />
<line x1="688.29" y1="387.4" x2="688.29" y2="385.4" stroke="#8a8a8a" stroke-width="1.0" />
<line x1="688.29" y1="1.3" x2="688.29" y2="3.3" stroke="#8a8a8a" stroke-width="1.0" />
<line x1="697.43" y1="387.4" x2="697.43" y2="385.4" stroke="#8a8a8a" stroke-width="1.0" />
<line x1="697.43" y1="1.3" x2="697.43" y2="3.3" stroke="#8a8a8a" stroke-width="1.0" />
<line x1="706.57" y1="387.4" x2="706.57" y2="385.4" stroke="#8a8a8a" stroke-width="1.0" />
<line x1="706.57" y1="1.3" x2="706.57" y2="3.3" stroke="#8a8a8a" stroke-width="1.0" />
<text x="578.6" y="396.6" font-size="9.8" text-anchor="middle" fill="#222" stroke="#222" stroke-width="0.12" textLength="5.72" lengthAdjust="spacing">0</text>
<text x="624.3" y="396.6" font-size="9.8" text-anchor="middle" fill="#222" stroke="#222" stroke-width="0.12" textLength="11.45" lengthAdjust="spacing">50</text>
<text x="670.01" y="396.6" font-size="9.8" text-anchor="middle" fill="#222" stroke="#222" stroke-width="0.12" textLength="17.17" lengthAdjust="spacing">100</text>
<text x="715.71" y="396.6" font-size="9.8" text-anchor="middle" fill="#222" stroke="#222" stroke-width="0.12" textLength="17.17" lengthAdjust="spacing">150</text>
<text x="410.2" y="193.7" font-size="12" text-anchor="middle" fill="#222" stroke="#222" stroke-width="0.2" textLength="87" lengthAdjust="spacingAndGlyphs" transform="rotate(-90 410.2 193.7)" >Period [1000s]</text>
<text x="412.3" y="409.9" font-size="12.5" text-anchor="start" fill="#222" stroke="#222" stroke-width="0.2" textLength="16.2" lengthAdjust="spacingAndGlyphs" >(d)</text>
<text x="507.4" y="410.4" font-size="12" text-anchor="middle" fill="#222" stroke="#222" stroke-width="0.2" textLength="93.2" lengthAdjust="spacingAndGlyphs" >P mod 268.5[s]</text>
<text x="650.8" y="410.4" font-size="12" text-anchor="middle" fill="#222" stroke="#222" stroke-width="0.2" textLength="93.1" lengthAdjust="spacingAndGlyphs" >P mod 159.4[s]</text>
<rect x="432.8" y="5.9" width="76.7" height="56.2" rx="2" fill="#fff" fill-opacity="0.5" stroke="#e8e8e8" stroke-width="0.8"/>
<polygon points="445,10.6 445.68,11.97 447.19,12.19 446.09,13.26 446.35,14.76 445,14.05 443.65,14.76 443.91,13.26 442.81,12.19 444.32,11.97" fill="#f0a024"/>
<circle cx="445" cy="26.3" r="3.4" fill="#008000"/>
<circle cx="445" cy="39.5" r="2.1" fill="#c47cca"/>
<g><path d="M445,50.1 A3.2,3.2 0 0 0 445,56.5 Z" fill="#2ca02c"/><path d="M445,50.1 A3.2,3.2 0 0 1 445,56.5 Z" fill="#a070d8"/><circle cx="445" cy="53.3" r="3.2" fill="none" stroke="#c8d0f0" stroke-width="0.6"/></g>
<text x="460.8" y="16.4" font-size="10" text-anchor="start" fill="#222" stroke="#222" stroke-width="0.2" textLength="44.2" lengthAdjust="spacingAndGlyphs" >unidentify</text>
<text x="460.8" y="30" font-size="10" fill="#222" stroke="#222" stroke-width="0.2"><tspan font-style="italic">ℓ</tspan> = 1</text>
<text x="460.8" y="43.2" font-size="10" fill="#222" stroke="#222" stroke-width="0.2"><tspan font-style="italic">ℓ</tspan> = 2</text>
<text x="460.8" y="57" font-size="10" fill="#222" stroke="#222" stroke-width="0.2"><tspan font-style="italic">ℓ</tspan> = 1, 2</text>
<rect x="583.3" y="5.9" width="76" height="56.2" rx="2" fill="#fff" fill-opacity="0.5" stroke="#e8e8e8" stroke-width="0.8"/>
<polygon points="595.4,10.6 596.08,11.97 597.59,12.19 596.49,13.26 596.75,14.76 595.4,14.05 594.05,14.76 594.31,13.26 593.21,12.19 594.72,11.97" fill="#f0a024"/>
<circle cx="595.4" cy="26.3" r="2.3" fill="#74c474"/>
<circle cx="595.4" cy="39.7" r="3.5" fill="#800080"/>
<g><path d="M595.4,50.1 A3.2,3.2 0 0 0 595.4,56.5 Z" fill="#2ca02c"/><path d="M595.4,50.1 A3.2,3.2 0 0 1 595.4,56.5 Z" fill="#a070d8"/><circle cx="595.4" cy="53.3" r="3.2" fill="none" stroke="#c8d0f0" stroke-width="0.6"/></g>
<text x="611.5" y="16.4" font-size="10" text-anchor="start" fill="#222" stroke="#222" stroke-width="0.2" textLength="44.2" lengthAdjust="spacingAndGlyphs" >unidentify</text>
<text x="611.5" y="30" font-size="10" fill="#222" stroke="#222" stroke-width="0.2"><tspan font-style="italic">ℓ</tspan> = 1</text>
<text x="611.5" y="43.2" font-size="10" fill="#222" stroke="#222" stroke-width="0.2"><tspan font-style="italic">ℓ</tspan> = 2</text>
<text x="611.5" y="57" font-size="10" fill="#222" stroke="#222" stroke-width="0.2"><tspan font-style="italic">ℓ</tspan> = 1, 2</text>
</svg>
</body></html>
